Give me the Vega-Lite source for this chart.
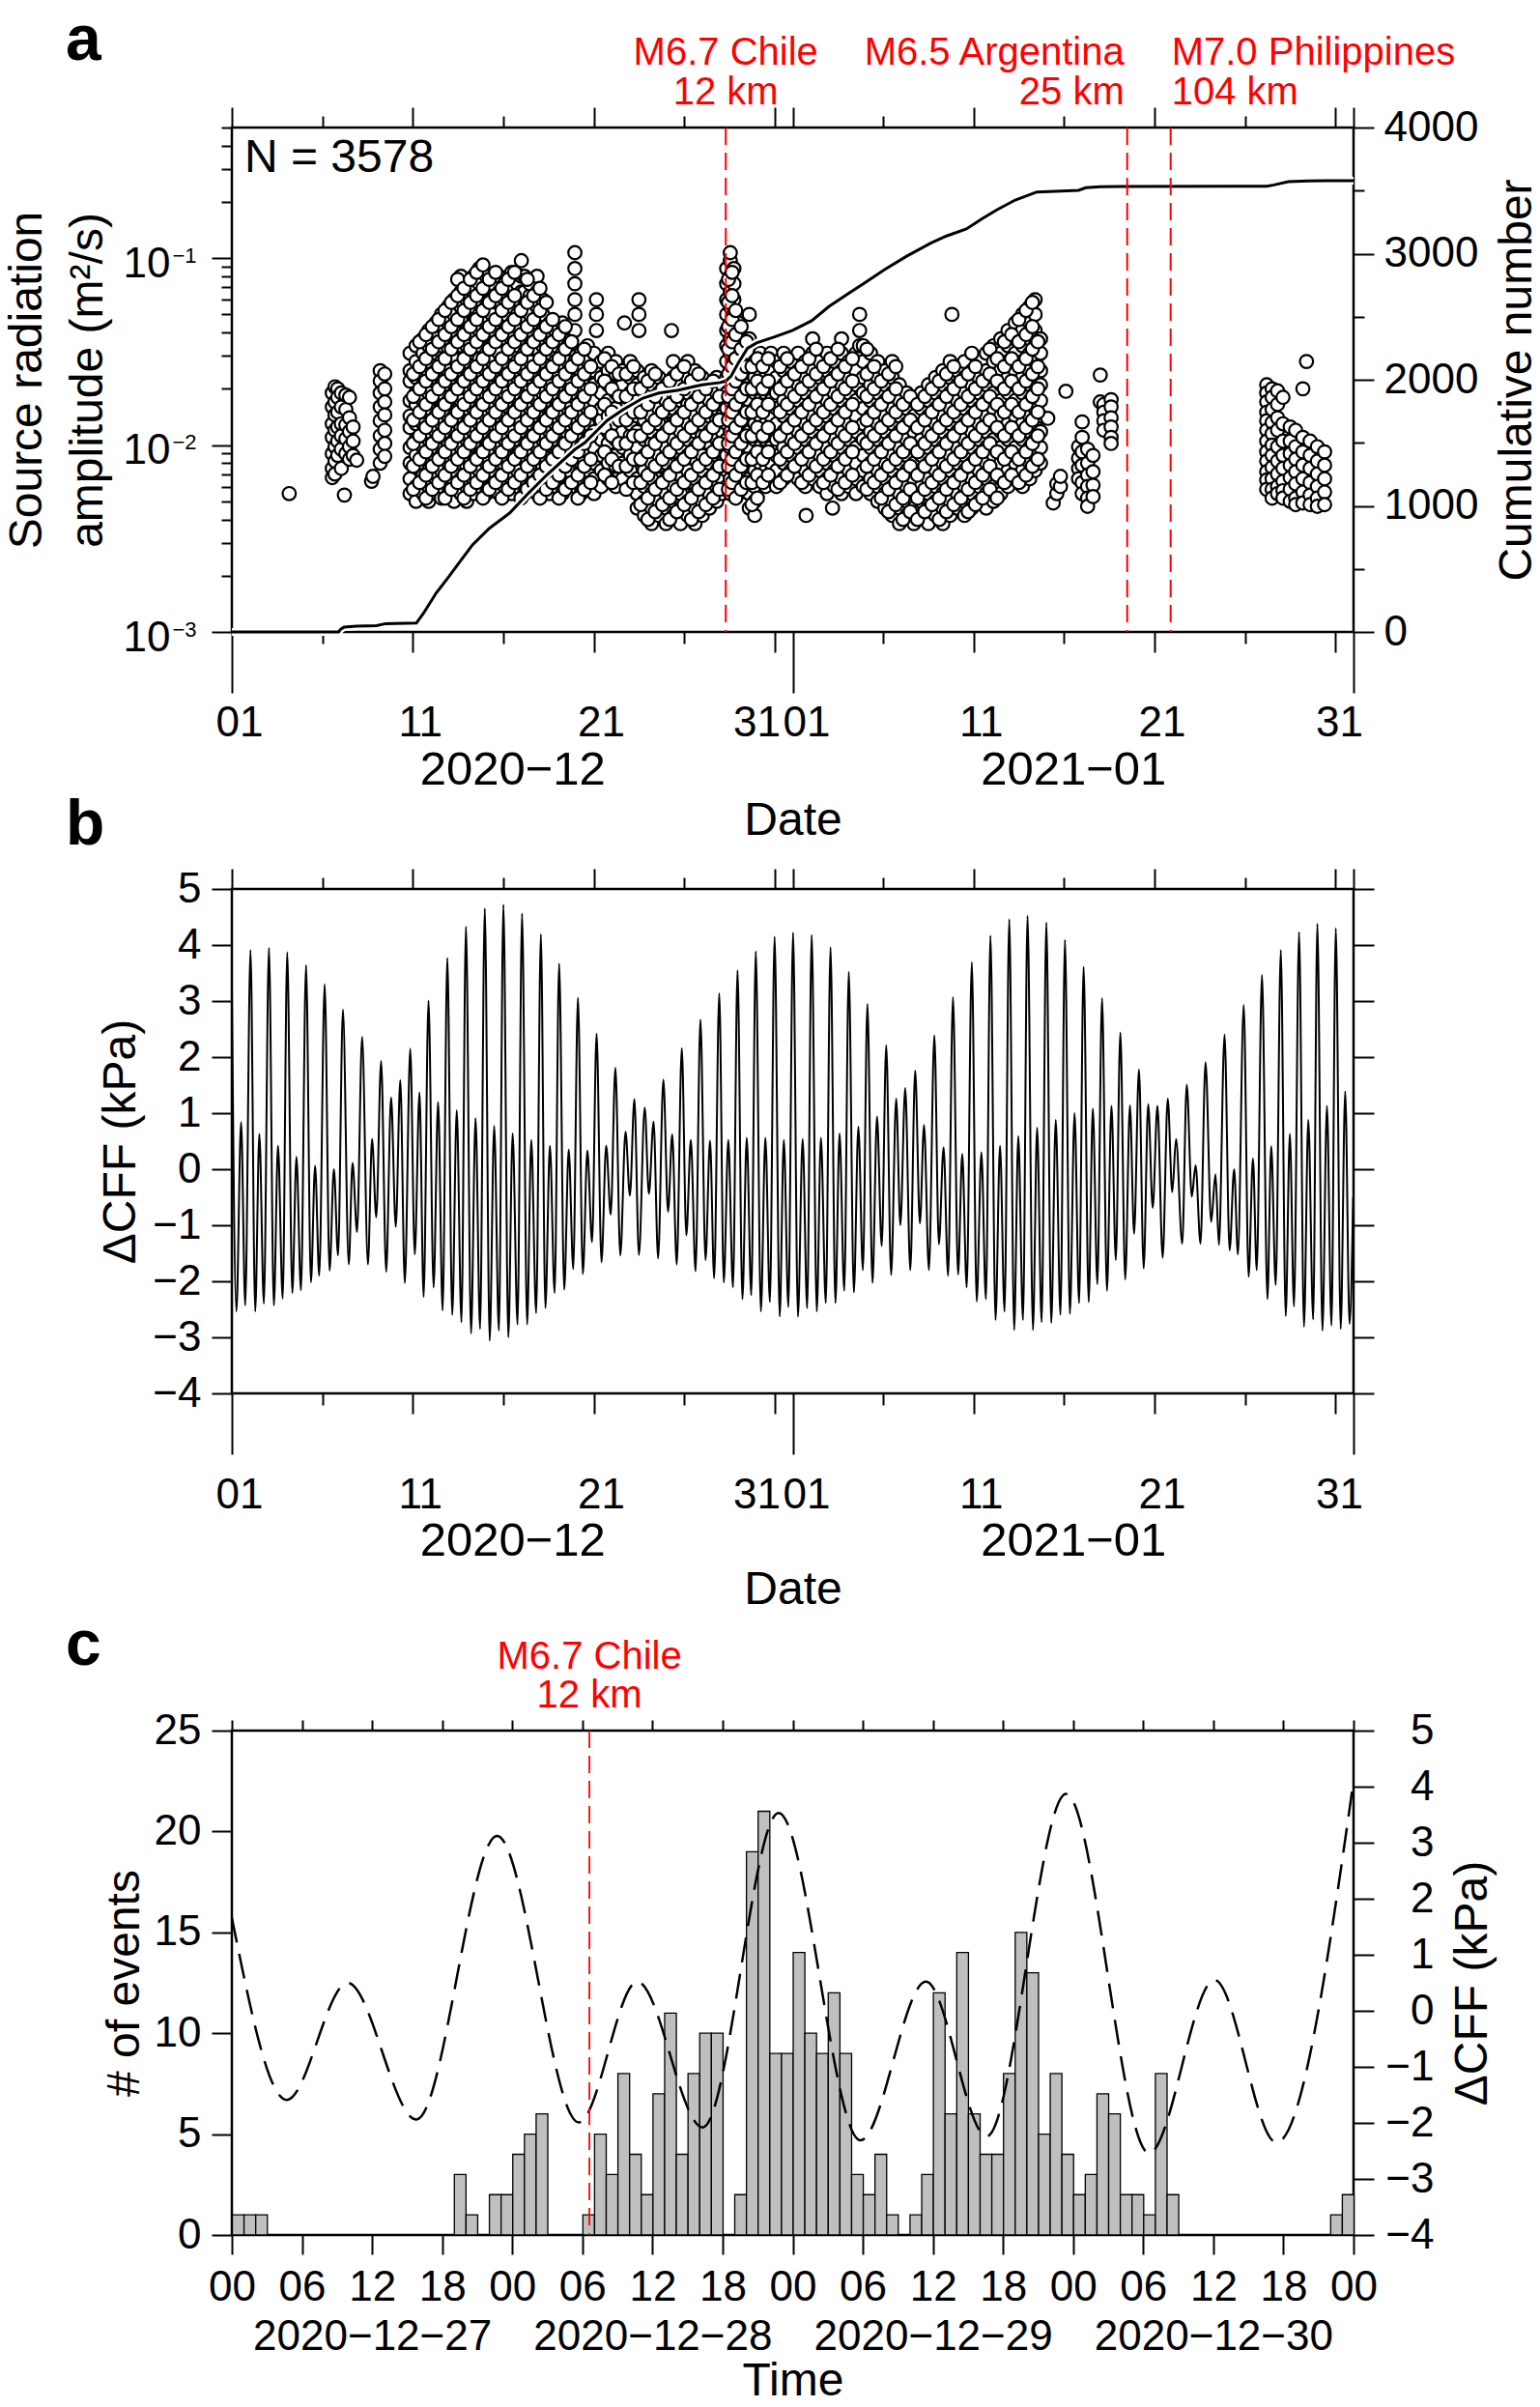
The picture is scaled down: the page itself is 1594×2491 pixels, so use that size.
{
"$schema":"https://vega.github.io/schema/vega-lite/v6.json",
"background":"white",
"padding":{"left":2,"top":7,"right":5,"bottom":5},
"config":{
 "font":"Liberation Sans",
 "view":{"stroke":"black","strokeWidth":2.5},
 "axis":{"domain":false,"grid":false,"tickColor":"black","tickWidth":2,"labelColor":"black","titleColor":"black","labelFont":"Liberation Sans","titleFont":"Liberation Sans","labelFontSize":44,"titleFontSize":48,"titleFontWeight":"normal","labelFlush":false,"labelOverlap":false,"labelBound":false,"labelLimit":1000},
 "text":{"font":"Liberation Sans"}
},
"datasets":{
"quakesA":[{"d":27.3,"q":"Chile","label":["M6.7 Chile","12 km"]},{"d":49.49,"q":"Argentina","label":["M6.5 Argentina","25 km"]},{"d":51.89,"q":"Philippines","label":["M7.0 Philippines","104 km"]}],
"quakeC":[{"h":30.6,"label":["M6.7 Chile","12 km"]}],
"cum":[{"d":0,"n":0},{"d":5.9,"n":0},{"d":6.0,"n":20},{"d":6.2,"n":38},{"d":6.9,"n":46},{"d":8.0,"n":50},{"d":8.5,"n":66},{"d":10.2,"n":70},{"d":10.6,"n":150},{"d":11.3,"n":310},{"d":12.0,"n":440},{"d":12.64,"n":565},{"d":13.3,"n":690},{"d":14.22,"n":820},{"d":15.35,"n":942},{"d":16.4,"n":1101},{"d":17.38,"n":1241},{"d":18.95,"n":1446},{"d":19.5,"n":1500},{"d":20.74,"n":1676},{"d":21.6,"n":1760},{"d":22.72,"n":1854},{"d":23.6,"n":1895},{"d":24.7,"n":1918},{"d":25.5,"n":1945},{"d":26.0,"n":1960},{"d":27.0,"n":1978},{"d":27.3,"n":1990},{"d":27.6,"n":2030},{"d":28.0,"n":2135},{"d":28.5,"n":2250},{"d":29.0,"n":2292},{"d":30.0,"n":2340},{"d":31.0,"n":2392},{"d":32.05,"n":2468},{"d":33.0,"n":2580},{"d":34.1,"n":2685},{"d":35.0,"n":2770},{"d":36.1,"n":2876},{"d":37.3,"n":2980},{"d":38.6,"n":3081},{"d":39.5,"n":3140},{"d":40.6,"n":3196},{"d":41.5,"n":3280},{"d":42.3,"n":3349},{"d":43.3,"n":3425},{"d":44.5,"n":3489},{"d":45.5,"n":3495},{"d":46.8,"n":3502},{"d":47.2,"n":3523},{"d":48.0,"n":3530},{"d":49.1,"n":3532},{"d":57.2,"n":3535},{"d":57.6,"n":3545},{"d":58.4,"n":3571},{"d":59.5,"n":3576},{"d":60.5,"n":3578},{"d":62,"n":3578}],
"scatter":[
{"d":3.17,"a":0.0055},
{"d":5.55,"a":0.019},{"d":5.55,"a":0.016},{"d":5.55,"a":0.013},{"d":5.55,"a":0.011},{"d":5.55,"a":0.009},{"d":5.55,"a":0.0075},{"d":5.55,"a":0.0067},
{"d":5.7,"a":0.0205},{"d":5.7,"a":0.017},{"d":5.7,"a":0.0145},{"d":5.7,"a":0.012},{"d":5.7,"a":0.0098},{"d":5.7,"a":0.0082},{"d":5.7,"a":0.007},
{"d":5.85,"a":0.02},{"d":5.85,"a":0.018},{"d":5.85,"a":0.015},{"d":5.85,"a":0.0125},{"d":5.85,"a":0.0105},{"d":5.85,"a":0.0088},
{"d":6.05,"a":0.019},{"d":6.05,"a":0.016},{"d":6.05,"a":0.013},{"d":6.05,"a":0.0112},{"d":6.05,"a":0.0095},{"d":6.05,"a":0.0075},
{"d":6.22,"a":0.0054},
{"d":6.3,"a":0.0185},{"d":6.3,"a":0.0155},{"d":6.3,"a":0.0128},{"d":6.3,"a":0.0108},{"d":6.3,"a":0.009},
{"d":6.5,"a":0.018},{"d":6.5,"a":0.014},{"d":6.5,"a":0.0118},{"d":6.5,"a":0.0098},{"d":6.5,"a":0.0084},
{"d":6.7,"a":0.0125},{"d":6.7,"a":0.0105},{"d":6.7,"a":0.0088},{"d":6.9,"a":0.0083},
{"d":7.72,"a":0.0064},{"d":7.8,"a":0.0068},
{"d":8.2,"a":0.025},{"d":8.2,"a":0.022},{"d":8.2,"a":0.019},{"d":8.2,"a":0.016},{"d":8.2,"a":0.0135},{"d":8.2,"a":0.0112},{"d":8.2,"a":0.0095},{"d":8.2,"a":0.008},
{"d":8.45,"a":0.024},{"d":8.45,"a":0.02},{"d":8.45,"a":0.017},{"d":8.45,"a":0.0145},{"d":8.45,"a":0.012},{"d":8.45,"a":0.0102},{"d":8.45,"a":0.0087},
{"d":9.85,"a":0.0055},{"d":9.85,"a":0.0066},{"d":9.85,"a":0.008},{"d":9.85,"a":0.0097},{"d":9.85,"a":0.0124},{"d":9.85,"a":0.0143},{"d":9.85,"a":0.0173},{"d":9.85,"a":0.022},{"d":9.85,"a":0.025},{"d":9.85,"a":0.031},
{"d":10.18,"a":0.005},{"d":10.18,"a":0.006},{"d":10.18,"a":0.0077},{"d":10.18,"a":0.0088},{"d":10.18,"a":0.0107},{"d":10.18,"a":0.013},{"d":10.18,"a":0.0165},{"d":10.18,"a":0.019},{"d":10.18,"a":0.023},{"d":10.18,"a":0.028},{"d":10.18,"a":0.034},
{"d":10.57,"a":0.0055},{"d":10.57,"a":0.0069},{"d":10.57,"a":0.008},{"d":10.57,"a":0.0097},{"d":10.57,"a":0.013},{"d":10.57,"a":0.015},{"d":10.57,"a":0.0173},{"d":10.57,"a":0.021},{"d":10.57,"a":0.0263},{"d":10.57,"a":0.031},{"d":10.57,"a":0.037},
{"d":10.88,"a":0.005},{"d":10.88,"a":0.006},{"d":10.88,"a":0.0073},{"d":10.88,"a":0.0092},{"d":10.88,"a":0.0107},{"d":10.88,"a":0.0118},{"d":10.88,"a":0.0157},{"d":10.88,"a":0.019},{"d":10.88,"a":0.024},{"d":10.88,"a":0.028},{"d":10.88,"a":0.034},{"d":10.88,"a":0.041},
{"d":11.27,"a":0.0055},{"d":11.27,"a":0.0066},{"d":11.27,"a":0.0084},{"d":11.27,"a":0.0097},{"d":11.27,"a":0.0118},{"d":11.27,"a":0.0143},{"d":11.27,"a":0.0182},{"d":11.27,"a":0.023},{"d":11.27,"a":0.025},{"d":11.27,"a":0.031},{"d":11.27,"a":0.039},{"d":11.27,"a":0.045},
{"d":11.58,"a":0.0052},{"d":11.58,"a":0.006},{"d":11.58,"a":0.0073},{"d":11.58,"a":0.0088},{"d":11.58,"a":0.0112},{"d":11.58,"a":0.013},{"d":11.58,"a":0.0157},{"d":11.58,"a":0.019},{"d":11.58,"a":0.021},{"d":11.58,"a":0.028},{"d":11.58,"a":0.034},{"d":11.58,"a":0.043},{"d":11.58,"a":0.05},
{"d":11.97,"a":0.0055},{"d":11.97,"a":0.0066},{"d":11.97,"a":0.008},{"d":11.97,"a":0.0102},{"d":11.97,"a":0.0118},{"d":11.97,"a":0.0143},{"d":11.97,"a":0.0173},{"d":11.97,"a":0.021},{"d":11.97,"a":0.025},{"d":11.97,"a":0.0326},{"d":11.97,"a":0.037},{"d":11.97,"a":0.045},{"d":11.97,"a":0.055},
{"d":12.28,"a":0.005},{"d":12.28,"a":0.0063},{"d":12.28,"a":0.0073},{"d":12.28,"a":0.0088},{"d":12.28,"a":0.0107},{"d":12.28,"a":0.0136},{"d":12.28,"a":0.0143},{"d":12.28,"a":0.019},{"d":12.28,"a":0.023},{"d":12.28,"a":0.029},{"d":12.28,"a":0.034},{"d":12.28,"a":0.041},{"d":12.28,"a":0.05},{"d":12.28,"a":0.06},
{"d":12.66,"a":0.0055},{"d":12.66,"a":0.0066},{"d":12.66,"a":0.008},{"d":12.66,"a":0.0097},{"d":12.66,"a":0.0124},{"d":12.66,"a":0.0143},{"d":12.66,"a":0.0173},{"d":12.66,"a":0.021},{"d":12.66,"a":0.025},{"d":12.66,"a":0.034},{"d":12.66,"a":0.037},{"d":12.66,"a":0.047},{"d":12.66,"a":0.055},{"d":12.66,"a":0.066},{"d":12.66,"a":0.08},
{"d":12.98,"a":0.005},{"d":12.98,"a":0.006},{"d":12.98,"a":0.0077},{"d":12.98,"a":0.0088},{"d":12.98,"a":0.0107},{"d":12.98,"a":0.013},{"d":12.98,"a":0.0157},{"d":12.98,"a":0.02},{"d":12.98,"a":0.023},{"d":12.98,"a":0.028},{"d":12.98,"a":0.034},{"d":12.98,"a":0.041},{"d":12.98,"a":0.0525},{"d":12.98,"a":0.06},{"d":12.98,"a":0.073},
{"d":13.36,"a":0.0055},{"d":13.36,"a":0.0066},{"d":13.36,"a":0.008},{"d":13.36,"a":0.0102},{"d":13.36,"a":0.0118},{"d":13.36,"a":0.0157},{"d":13.36,"a":0.0173},{"d":13.36,"a":0.021},{"d":13.36,"a":0.025},{"d":13.36,"a":0.031},{"d":13.36,"a":0.039},{"d":13.36,"a":0.045},{"d":13.36,"a":0.055},{"d":13.36,"a":0.066},{"d":13.36,"a":0.08},
{"d":13.68,"a":0.006},{"d":13.68,"a":0.0073},{"d":13.68,"a":0.0088},{"d":13.68,"a":0.0112},{"d":13.68,"a":0.013},{"d":13.68,"a":0.0157},{"d":13.68,"a":0.019},{"d":13.68,"a":0.023},{"d":13.68,"a":0.029},{"d":13.68,"a":0.034},{"d":13.68,"a":0.041},{"d":13.68,"a":0.05},{"d":13.68,"a":0.06},{"d":13.68,"a":0.073},{"d":13.68,"a":0.088},
{"d":14.07,"a":0.0055},{"d":14.07,"a":0.0069},{"d":14.07,"a":0.008},{"d":14.07,"a":0.0097},{"d":14.07,"a":0.0118},{"d":14.07,"a":0.0143},{"d":14.07,"a":0.0182},{"d":14.07,"a":0.021},{"d":14.07,"a":0.025},{"d":14.07,"a":0.031},{"d":14.07,"a":0.041},{"d":14.07,"a":0.045},{"d":14.07,"a":0.055},{"d":14.07,"a":0.069},{"d":14.07,"a":0.08},
{"d":14.38,"a":0.006},{"d":14.38,"a":0.0073},{"d":14.38,"a":0.0092},{"d":14.38,"a":0.0107},{"d":14.38,"a":0.013},{"d":14.38,"a":0.0157},{"d":14.38,"a":0.019},{"d":14.38,"a":0.024},{"d":14.38,"a":0.028},{"d":14.38,"a":0.034},{"d":14.38,"a":0.041},{"d":14.38,"a":0.05},{"d":14.38,"a":0.06},{"d":14.38,"a":0.073},
{"d":14.77,"a":0.0055},{"d":14.77,"a":0.0066},{"d":14.77,"a":0.008},{"d":14.77,"a":0.0097},{"d":14.77,"a":0.0124},{"d":14.77,"a":0.0143},{"d":14.77,"a":0.0173},{"d":14.77,"a":0.021},{"d":14.77,"a":0.0263},{"d":14.77,"a":0.031},{"d":14.77,"a":0.037},{"d":14.77,"a":0.045},{"d":14.77,"a":0.058},{"d":14.77,"a":0.066},{"d":14.77,"a":0.08},
{"d":15.08,"a":0.006},{"d":15.08,"a":0.0077},{"d":15.08,"a":0.0088},{"d":15.08,"a":0.0107},{"d":15.08,"a":0.013},{"d":15.08,"a":0.0173},{"d":15.08,"a":0.019},{"d":15.08,"a":0.023},{"d":15.08,"a":0.028},{"d":15.08,"a":0.0357},{"d":15.08,"a":0.041},{"d":15.08,"a":0.05},{"d":15.08,"a":0.06},{"d":15.08,"a":0.073},
{"d":15.47,"a":0.0055},{"d":15.47,"a":0.0066},{"d":15.47,"a":0.008},{"d":15.47,"a":0.0102},{"d":15.47,"a":0.0118},{"d":15.47,"a":0.0143},{"d":15.47,"a":0.0173},{"d":15.47,"a":0.022},{"d":15.47,"a":0.025},{"d":15.47,"a":0.031},{"d":15.47,"a":0.037},{"d":15.47,"a":0.045},{"d":15.47,"a":0.055},{"d":15.47,"a":0.066},{"d":15.47,"a":0.084},
{"d":15.78,"a":0.006},{"d":15.78,"a":0.0073},{"d":15.78,"a":0.0088},{"d":15.78,"a":0.0107},{"d":15.78,"a":0.0136},{"d":15.78,"a":0.0157},{"d":15.78,"a":0.019},{"d":15.78,"a":0.023},{"d":15.78,"a":0.028},{"d":15.78,"a":0.034},{"d":15.78,"a":0.043},{"d":15.78,"a":0.05},{"d":15.78,"a":0.06},{"d":15.78,"a":0.073},
{"d":16.0,"a":0.066},{"d":16.0,"a":0.08},{"d":16.0,"a":0.097},
{"d":16.17,"a":0.0055},{"d":16.17,"a":0.0066},{"d":16.17,"a":0.0084},{"d":16.17,"a":0.0097},{"d":16.17,"a":0.0118},{"d":16.17,"a":0.015},{"d":16.17,"a":0.0173},{"d":16.17,"a":0.021},{"d":16.17,"a":0.025},{"d":16.17,"a":0.031},{"d":16.17,"a":0.037},{"d":16.17,"a":0.047},{"d":16.17,"a":0.055},{"d":16.17,"a":0.066},{"d":16.17,"a":0.08},
{"d":16.48,"a":0.006},{"d":16.48,"a":0.0073},{"d":16.48,"a":0.0088},{"d":16.48,"a":0.0107},{"d":16.48,"a":0.013},{"d":16.48,"a":0.0157},{"d":16.48,"a":0.02},{"d":16.48,"a":0.023},{"d":16.48,"a":0.028},{"d":16.48,"a":0.034},{"d":16.48,"a":0.041},{"d":16.48,"a":0.05},{"d":16.48,"a":0.063},{"d":16.48,"a":0.073},
{"d":16.87,"a":0.0055},{"d":16.87,"a":0.0066},{"d":16.87,"a":0.008},{"d":16.87,"a":0.0097},{"d":16.87,"a":0.0118},{"d":16.87,"a":0.0143},{"d":16.87,"a":0.0173},{"d":16.87,"a":0.021},{"d":16.87,"a":0.025},{"d":16.87,"a":0.0326},{"d":16.87,"a":0.037},{"d":16.87,"a":0.045},{"d":16.87,"a":0.055},{"d":16.87,"a":0.066},{"d":16.87,"a":0.08},
{"d":17.18,"a":0.006},{"d":17.18,"a":0.0077},{"d":17.18,"a":0.0088},{"d":17.18,"a":0.0107},{"d":17.18,"a":0.013},{"d":17.18,"a":0.0165},{"d":17.18,"a":0.019},{"d":17.18,"a":0.023},{"d":17.18,"a":0.028},{"d":17.18,"a":0.034},{"d":17.18,"a":0.041},{"d":17.18,"a":0.05},{"d":17.18,"a":0.06},
{"d":17.57,"a":0.0055},{"d":17.57,"a":0.0066},{"d":17.57,"a":0.008},{"d":17.57,"a":0.0102},{"d":17.57,"a":0.0118},{"d":17.57,"a":0.0143},{"d":17.57,"a":0.0173},{"d":17.57,"a":0.021},{"d":17.57,"a":0.025},{"d":17.57,"a":0.031},{"d":17.57,"a":0.037},{"d":17.57,"a":0.045},
{"d":17.88,"a":0.006},{"d":17.88,"a":0.0073},{"d":17.88,"a":0.0088},{"d":17.88,"a":0.0107},{"d":17.88,"a":0.013},{"d":17.88,"a":0.0157},{"d":17.88,"a":0.019},{"d":17.88,"a":0.024},{"d":17.88,"a":0.028},{"d":17.88,"a":0.034},{"d":17.88,"a":0.041},
{"d":18.27,"a":0.0055},{"d":18.27,"a":0.0069},{"d":18.27,"a":0.008},{"d":18.27,"a":0.0097},{"d":18.27,"a":0.0118},{"d":18.27,"a":0.0143},{"d":18.27,"a":0.0173},{"d":18.27,"a":0.021},{"d":18.27,"a":0.0263},{"d":18.27,"a":0.031},{"d":18.27,"a":0.037},{"d":18.27,"a":0.045},
{"d":18.58,"a":0.006},{"d":18.58,"a":0.0073},{"d":18.58,"a":0.0088},{"d":18.58,"a":0.0112},{"d":18.58,"a":0.013},{"d":18.58,"a":0.0157},{"d":18.58,"a":0.019},{"d":18.58,"a":0.023},{"d":18.58,"a":0.028},{"d":18.58,"a":0.034},
{"d":18.96,"a":0.006},{"d":18.96,"a":0.0088},{"d":18.96,"a":0.013},{"d":18.96,"a":0.019},{"d":18.96,"a":0.028},{"d":18.96,"a":0.041},{"d":18.96,"a":0.05},{"d":18.96,"a":0.06},{"d":18.96,"a":0.073},{"d":18.96,"a":0.088},{"d":18.96,"a":0.107},
{"d":19.3,"a":0.0055},{"d":19.3,"a":0.0066},{"d":19.3,"a":0.008},{"d":19.3,"a":0.0097},{"d":19.3,"a":0.0124},{"d":19.3,"a":0.0143},{"d":19.3,"a":0.0173},{"d":19.3,"a":0.021},{"d":19.3,"a":0.025},{"d":19.3,"a":0.031},
{"d":19.66,"a":0.006},{"d":19.66,"a":0.0073},{"d":19.66,"a":0.0092},{"d":19.66,"a":0.0107},{"d":19.66,"a":0.013},{"d":19.66,"a":0.0157},{"d":19.66,"a":0.02},{"d":19.66,"a":0.023},{"d":19.66,"a":0.028},{"d":19.66,"a":0.034},
{"d":20.02,"a":0.0055},{"d":20.02,"a":0.0066},{"d":20.02,"a":0.008},{"d":20.02,"a":0.0097},{"d":20.02,"a":0.0118},{"d":20.02,"a":0.015},{"d":20.02,"a":0.0173},{"d":20.02,"a":0.021},{"d":20.02,"a":0.025},{"d":20.02,"a":0.031},
{"d":20.15,"a":0.041},{"d":20.15,"a":0.05},{"d":20.15,"a":0.06},
{"d":20.42,"a":0.006},{"d":20.42,"a":0.0073},{"d":20.42,"a":0.0088},{"d":20.42,"a":0.0107},{"d":20.42,"a":0.0136},{"d":20.42,"a":0.0157},{"d":20.42,"a":0.019},{"d":20.42,"a":0.023},{"d":20.42,"a":0.028},
{"d":20.8,"a":0.0066},{"d":20.8,"a":0.008},{"d":20.8,"a":0.0102},{"d":20.8,"a":0.0118},{"d":20.8,"a":0.0143},{"d":20.8,"a":0.0173},{"d":20.8,"a":0.021},{"d":20.8,"a":0.025},{"d":20.8,"a":0.031},
{"d":21.22,"a":0.006},{"d":21.22,"a":0.0077},{"d":21.22,"a":0.0088},{"d":21.22,"a":0.0107},{"d":21.22,"a":0.013},{"d":21.22,"a":0.0157},{"d":21.22,"a":0.019},{"d":21.22,"a":0.024},{"d":21.22,"a":0.028},
{"d":21.6,"a":0.0066},{"d":21.6,"a":0.008},{"d":21.6,"a":0.0097},{"d":21.6,"a":0.0118},{"d":21.6,"a":0.0143},{"d":21.6,"a":0.0182},{"d":21.6,"a":0.021},{"d":21.6,"a":0.025},
{"d":21.7,"a":0.045},
{"d":22.02,"a":0.006},{"d":22.02,"a":0.0073},{"d":22.02,"a":0.0088},{"d":22.02,"a":0.0112},{"d":22.02,"a":0.013},{"d":22.02,"a":0.0157},{"d":22.02,"a":0.019},{"d":22.02,"a":0.023},{"d":22.02,"a":0.028},
{"d":22.4,"a":0.0046},{"d":22.4,"a":0.0055},{"d":22.4,"a":0.0066},{"d":22.4,"a":0.0084},{"d":22.4,"a":0.0097},{"d":22.4,"a":0.0118},{"d":22.4,"a":0.0143},{"d":22.4,"a":0.0173},{"d":22.4,"a":0.021},{"d":22.4,"a":0.025},
{"d":22.5,"a":0.041},{"d":22.5,"a":0.05},{"d":22.5,"a":0.06},
{"d":22.8,"a":0.0042},{"d":22.8,"a":0.005},{"d":22.8,"a":0.006},{"d":22.8,"a":0.0073},{"d":22.8,"a":0.0088},{"d":22.8,"a":0.0107},{"d":22.8,"a":0.0136},{"d":22.8,"a":0.0157},{"d":22.8,"a":0.019},{"d":22.8,"a":0.023},
{"d":23.2,"a":0.0038},{"d":23.2,"a":0.0046},{"d":23.2,"a":0.0055},{"d":23.2,"a":0.0066},{"d":23.2,"a":0.008},{"d":23.2,"a":0.0102},{"d":23.2,"a":0.0118},{"d":23.2,"a":0.0143},{"d":23.2,"a":0.0173},{"d":23.2,"a":0.021},{"d":23.2,"a":0.025},
{"d":23.6,"a":0.0042},{"d":23.6,"a":0.005},{"d":23.6,"a":0.006},{"d":23.6,"a":0.0077},{"d":23.6,"a":0.0088},{"d":23.6,"a":0.0107},{"d":23.6,"a":0.013},{"d":23.6,"a":0.0157},{"d":23.6,"a":0.019},{"d":23.6,"a":0.023},
{"d":24.0,"a":0.0038},{"d":24.0,"a":0.0046},{"d":24.0,"a":0.0055},{"d":24.0,"a":0.0066},{"d":24.0,"a":0.008},{"d":24.0,"a":0.0097},{"d":24.0,"a":0.0118},{"d":24.0,"a":0.015},{"d":24.0,"a":0.0173},{"d":24.0,"a":0.021},
{"d":24.3,"a":0.041},
{"d":24.4,"a":0.0042},{"d":24.4,"a":0.005},{"d":24.4,"a":0.006},{"d":24.4,"a":0.0073},{"d":24.4,"a":0.0092},{"d":24.4,"a":0.0107},{"d":24.4,"a":0.013},{"d":24.4,"a":0.0157},{"d":24.4,"a":0.019},{"d":24.4,"a":0.023},{"d":24.4,"a":0.028},
{"d":24.8,"a":0.0038},{"d":24.8,"a":0.0046},{"d":24.8,"a":0.0055},{"d":24.8,"a":0.0069},{"d":24.8,"a":0.008},{"d":24.8,"a":0.0097},{"d":24.8,"a":0.0118},{"d":24.8,"a":0.0143},{"d":24.8,"a":0.0173},{"d":24.8,"a":0.021},{"d":24.8,"a":0.025},
{"d":25.2,"a":0.0042},{"d":25.2,"a":0.005},{"d":25.2,"a":0.0063},{"d":25.2,"a":0.0073},{"d":25.2,"a":0.0088},{"d":25.2,"a":0.0107},{"d":25.2,"a":0.013},{"d":25.2,"a":0.0165},{"d":25.2,"a":0.019},{"d":25.2,"a":0.023},{"d":25.2,"a":0.028},
{"d":25.6,"a":0.0038},{"d":25.6,"a":0.0046},{"d":25.6,"a":0.0055},{"d":25.6,"a":0.0066},{"d":25.6,"a":0.0084},{"d":25.6,"a":0.0097},{"d":25.6,"a":0.0118},{"d":25.6,"a":0.0143},{"d":25.6,"a":0.0173},{"d":25.6,"a":0.022},{"d":25.6,"a":0.025},
{"d":26.0,"a":0.0042},{"d":26.0,"a":0.005},{"d":26.0,"a":0.006},{"d":26.0,"a":0.0073},{"d":26.0,"a":0.0088},{"d":26.0,"a":0.0112},{"d":26.0,"a":0.013},{"d":26.0,"a":0.0157},{"d":26.0,"a":0.019},{"d":26.0,"a":0.023},
{"d":26.4,"a":0.0046},{"d":26.4,"a":0.0055},{"d":26.4,"a":0.0066},{"d":26.4,"a":0.008},{"d":26.4,"a":0.0102},{"d":26.4,"a":0.0118},{"d":26.4,"a":0.0143},{"d":26.4,"a":0.0173},{"d":26.4,"a":0.021},
{"d":26.8,"a":0.005},{"d":26.8,"a":0.006},{"d":26.8,"a":0.0073},{"d":26.8,"a":0.0088},{"d":26.8,"a":0.0107},{"d":26.8,"a":0.0136},{"d":26.8,"a":0.0157},{"d":26.8,"a":0.019},{"d":26.8,"a":0.023},
{"d":27.1,"a":0.0055},{"d":27.1,"a":0.0066},{"d":27.1,"a":0.008},{"d":27.1,"a":0.0097},{"d":27.1,"a":0.0118},{"d":27.1,"a":0.0143},{"d":27.1,"a":0.0173},{"d":27.1,"a":0.021},
{"d":27.35,"a":0.006},{"d":27.35,"a":0.0073},{"d":27.35,"a":0.0088},{"d":27.35,"a":0.0107},{"d":27.35,"a":0.013},{"d":27.35,"a":0.0157},{"d":27.35,"a":0.019},{"d":27.35,"a":0.023},{"d":27.35,"a":0.028},{"d":27.35,"a":0.034},{"d":27.35,"a":0.041},{"d":27.35,"a":0.05},{"d":27.35,"a":0.06},{"d":27.35,"a":0.073},{"d":27.35,"a":0.088},
{"d":27.55,"a":0.0055},{"d":27.55,"a":0.0066},{"d":27.55,"a":0.008},{"d":27.55,"a":0.0097},{"d":27.55,"a":0.0118},{"d":27.55,"a":0.0143},{"d":27.55,"a":0.0173},{"d":27.55,"a":0.021},{"d":27.55,"a":0.025},{"d":27.55,"a":0.031},{"d":27.55,"a":0.037},{"d":27.55,"a":0.045},{"d":27.55,"a":0.055},{"d":27.55,"a":0.066},{"d":27.55,"a":0.08},{"d":27.55,"a":0.097},{"d":27.55,"a":0.107},
{"d":27.75,"a":0.006},{"d":27.75,"a":0.0073},{"d":27.75,"a":0.0088},{"d":27.75,"a":0.0107},{"d":27.75,"a":0.013},{"d":27.75,"a":0.0157},{"d":27.75,"a":0.019},{"d":27.75,"a":0.023},{"d":27.75,"a":0.028},{"d":27.75,"a":0.034},{"d":27.75,"a":0.041},{"d":27.75,"a":0.05},{"d":27.75,"a":0.06},{"d":27.75,"a":0.073},{"d":27.75,"a":0.088},
{"d":28.0,"a":0.0055},{"d":28.0,"a":0.0066},{"d":28.0,"a":0.008},{"d":28.0,"a":0.0097},{"d":28.0,"a":0.0118},{"d":28.0,"a":0.0143},{"d":28.0,"a":0.0173},{"d":28.0,"a":0.021},{"d":28.0,"a":0.025},{"d":28.0,"a":0.031},{"d":28.0,"a":0.037},{"d":28.0,"a":0.045},
{"d":28.3,"a":0.006},{"d":28.3,"a":0.0073},{"d":28.3,"a":0.0088},{"d":28.3,"a":0.0107},{"d":28.3,"a":0.013},{"d":28.3,"a":0.0157},{"d":28.3,"a":0.019},{"d":28.3,"a":0.023},{"d":28.3,"a":0.028},{"d":28.3,"a":0.034},
{"d":28.6,"a":0.0046},{"d":28.6,"a":0.0055},{"d":28.6,"a":0.0066},{"d":28.6,"a":0.008},{"d":28.6,"a":0.0097},{"d":28.6,"a":0.0118},{"d":28.6,"a":0.0143},{"d":28.6,"a":0.0173},{"d":28.6,"a":0.021},{"d":28.6,"a":0.025},{"d":28.6,"a":0.031},{"d":28.6,"a":0.037},{"d":28.6,"a":0.05},
{"d":28.9,"a":0.0042},{"d":28.9,"a":0.005},{"d":28.9,"a":0.006},{"d":28.9,"a":0.0073},{"d":28.9,"a":0.0088},{"d":28.9,"a":0.0107},{"d":28.9,"a":0.013},{"d":28.9,"a":0.0157},{"d":28.9,"a":0.019},{"d":28.9,"a":0.023},{"d":28.9,"a":0.028},
{"d":29.2,"a":0.0066},{"d":29.2,"a":0.008},{"d":29.2,"a":0.0097},{"d":29.2,"a":0.0118},{"d":29.2,"a":0.0143},{"d":29.2,"a":0.0173},{"d":29.2,"a":0.021},{"d":29.2,"a":0.025},{"d":29.2,"a":0.031},
{"d":29.5,"a":0.006},{"d":29.5,"a":0.0073},{"d":29.5,"a":0.0088},{"d":29.5,"a":0.0107},{"d":29.5,"a":0.013},{"d":29.5,"a":0.0157},{"d":29.5,"a":0.019},{"d":29.5,"a":0.023},{"d":29.5,"a":0.028},
{"d":29.8,"a":0.0066},{"d":29.8,"a":0.008},{"d":29.8,"a":0.0097},{"d":29.8,"a":0.0118},{"d":29.8,"a":0.0143},{"d":29.8,"a":0.0173},{"d":29.8,"a":0.021},{"d":29.8,"a":0.025},{"d":29.8,"a":0.031},
{"d":30.1,"a":0.006},{"d":30.1,"a":0.0073},{"d":30.1,"a":0.0088},{"d":30.1,"a":0.0107},{"d":30.1,"a":0.013},{"d":30.1,"a":0.0157},{"d":30.1,"a":0.019},{"d":30.1,"a":0.023},{"d":30.1,"a":0.028},
{"d":30.5,"a":0.0066},{"d":30.5,"a":0.008},{"d":30.5,"a":0.0097},{"d":30.5,"a":0.0118},{"d":30.5,"a":0.0143},{"d":30.5,"a":0.0173},{"d":30.5,"a":0.021},{"d":30.5,"a":0.025},{"d":30.5,"a":0.031},
{"d":30.9,"a":0.0073},{"d":30.9,"a":0.0088},{"d":30.9,"a":0.0107},{"d":30.9,"a":0.013},{"d":30.9,"a":0.0157},{"d":30.9,"a":0.019},{"d":30.9,"a":0.023},{"d":30.9,"a":0.028},
{"d":31.3,"a":0.0066},{"d":31.3,"a":0.008},{"d":31.3,"a":0.0097},{"d":31.3,"a":0.0118},{"d":31.3,"a":0.0143},{"d":31.3,"a":0.0173},{"d":31.3,"a":0.021},{"d":31.3,"a":0.025},{"d":31.3,"a":0.031},
{"d":31.74,"a":0.0042},
{"d":31.7,"a":0.006},{"d":31.7,"a":0.0073},{"d":31.7,"a":0.0088},{"d":31.7,"a":0.0107},{"d":31.7,"a":0.013},{"d":31.7,"a":0.0157},{"d":31.7,"a":0.019},{"d":31.7,"a":0.023},{"d":31.7,"a":0.028},
{"d":32.1,"a":0.0066},{"d":32.1,"a":0.008},{"d":32.1,"a":0.0097},{"d":32.1,"a":0.0118},{"d":32.1,"a":0.0143},{"d":32.1,"a":0.0173},{"d":32.1,"a":0.021},{"d":32.1,"a":0.025},{"d":32.1,"a":0.031},{"d":32.1,"a":0.037},
{"d":32.5,"a":0.006},{"d":32.5,"a":0.0073},{"d":32.5,"a":0.0088},{"d":32.5,"a":0.0107},{"d":32.5,"a":0.013},{"d":32.5,"a":0.0157},{"d":32.5,"a":0.019},{"d":32.5,"a":0.023},{"d":32.5,"a":0.028},
{"d":32.9,"a":0.0055},{"d":32.9,"a":0.0066},{"d":32.9,"a":0.008},{"d":32.9,"a":0.0097},{"d":32.9,"a":0.0118},{"d":32.9,"a":0.0143},{"d":32.9,"a":0.0173},{"d":32.9,"a":0.021},{"d":32.9,"a":0.025},{"d":32.9,"a":0.031},
{"d":33.2,"a":0.0046},
{"d":33.3,"a":0.006},{"d":33.3,"a":0.0073},{"d":33.3,"a":0.0088},{"d":33.3,"a":0.0107},{"d":33.3,"a":0.013},{"d":33.3,"a":0.0157},{"d":33.3,"a":0.019},{"d":33.3,"a":0.023},{"d":33.3,"a":0.028},
{"d":33.7,"a":0.0055},{"d":33.7,"a":0.0066},{"d":33.7,"a":0.008},{"d":33.7,"a":0.0097},{"d":33.7,"a":0.0118},{"d":33.7,"a":0.0143},{"d":33.7,"a":0.0173},{"d":33.7,"a":0.021},{"d":33.7,"a":0.025},{"d":33.7,"a":0.031},{"d":33.7,"a":0.037},
{"d":34.1,"a":0.006},{"d":34.1,"a":0.0073},{"d":34.1,"a":0.0088},{"d":34.1,"a":0.0107},{"d":34.1,"a":0.013},{"d":34.1,"a":0.0157},{"d":34.1,"a":0.019},{"d":34.1,"a":0.023},{"d":34.1,"a":0.028},
{"d":34.5,"a":0.0055},{"d":34.5,"a":0.0066},{"d":34.5,"a":0.008},{"d":34.5,"a":0.0097},{"d":34.5,"a":0.0118},{"d":34.5,"a":0.0143},{"d":34.5,"a":0.0173},{"d":34.5,"a":0.021},{"d":34.5,"a":0.025},{"d":34.5,"a":0.031},
{"d":34.7,"a":0.034},{"d":34.7,"a":0.041},{"d":34.7,"a":0.05},
{"d":34.9,"a":0.006},{"d":34.9,"a":0.0073},{"d":34.9,"a":0.0088},{"d":34.9,"a":0.0107},{"d":34.9,"a":0.013},{"d":34.9,"a":0.0157},{"d":34.9,"a":0.019},{"d":34.9,"a":0.023},{"d":34.9,"a":0.028},{"d":34.9,"a":0.034},
{"d":35.3,"a":0.0055},{"d":35.3,"a":0.0066},{"d":35.3,"a":0.008},{"d":35.3,"a":0.0097},{"d":35.3,"a":0.0118},{"d":35.3,"a":0.0143},{"d":35.3,"a":0.0173},{"d":35.3,"a":0.021},{"d":35.3,"a":0.025},{"d":35.3,"a":0.031},
{"d":35.7,"a":0.005},{"d":35.7,"a":0.006},{"d":35.7,"a":0.0073},{"d":35.7,"a":0.0088},{"d":35.7,"a":0.0107},{"d":35.7,"a":0.013},{"d":35.7,"a":0.0157},{"d":35.7,"a":0.019},{"d":35.7,"a":0.023},{"d":35.7,"a":0.028},
{"d":36.1,"a":0.0046},{"d":36.1,"a":0.0055},{"d":36.1,"a":0.0066},{"d":36.1,"a":0.008},{"d":36.1,"a":0.0097},{"d":36.1,"a":0.0118},{"d":36.1,"a":0.0143},{"d":36.1,"a":0.0173},{"d":36.1,"a":0.021},{"d":36.1,"a":0.025},
{"d":36.5,"a":0.0042},{"d":36.5,"a":0.005},{"d":36.5,"a":0.006},{"d":36.5,"a":0.0073},{"d":36.5,"a":0.0088},{"d":36.5,"a":0.0107},{"d":36.5,"a":0.013},{"d":36.5,"a":0.0157},{"d":36.5,"a":0.019},{"d":36.5,"a":0.023},{"d":36.5,"a":0.028},
{"d":36.9,"a":0.0038},{"d":36.9,"a":0.0046},{"d":36.9,"a":0.0055},{"d":36.9,"a":0.0066},{"d":36.9,"a":0.008},{"d":36.9,"a":0.0097},{"d":36.9,"a":0.0118},{"d":36.9,"a":0.0143},{"d":36.9,"a":0.0173},{"d":36.9,"a":0.021},
{"d":37.3,"a":0.0042},{"d":37.3,"a":0.005},{"d":37.3,"a":0.006},{"d":37.3,"a":0.0073},{"d":37.3,"a":0.0088},{"d":37.3,"a":0.0107},{"d":37.3,"a":0.013},{"d":37.3,"a":0.0157},{"d":37.3,"a":0.019},
{"d":37.7,"a":0.0038},{"d":37.7,"a":0.0046},{"d":37.7,"a":0.0055},{"d":37.7,"a":0.0066},{"d":37.7,"a":0.008},{"d":37.7,"a":0.0097},{"d":37.7,"a":0.0118},{"d":37.7,"a":0.0143},{"d":37.7,"a":0.0173},
{"d":38.1,"a":0.0042},{"d":38.1,"a":0.005},{"d":38.1,"a":0.006},{"d":38.1,"a":0.0073},{"d":38.1,"a":0.0088},{"d":38.1,"a":0.0107},{"d":38.1,"a":0.013},{"d":38.1,"a":0.0157},{"d":38.1,"a":0.019},
{"d":38.5,"a":0.0038},{"d":38.5,"a":0.0046},{"d":38.5,"a":0.0055},{"d":38.5,"a":0.0066},{"d":38.5,"a":0.008},{"d":38.5,"a":0.0097},{"d":38.5,"a":0.0118},{"d":38.5,"a":0.0143},{"d":38.5,"a":0.0173},{"d":38.5,"a":0.021},
{"d":38.9,"a":0.0042},{"d":38.9,"a":0.005},{"d":38.9,"a":0.006},{"d":38.9,"a":0.0073},{"d":38.9,"a":0.0088},{"d":38.9,"a":0.0107},{"d":38.9,"a":0.013},{"d":38.9,"a":0.0157},{"d":38.9,"a":0.019},{"d":38.9,"a":0.023},
{"d":39.3,"a":0.0038},{"d":39.3,"a":0.0046},{"d":39.3,"a":0.0055},{"d":39.3,"a":0.0066},{"d":39.3,"a":0.008},{"d":39.3,"a":0.0097},{"d":39.3,"a":0.0118},{"d":39.3,"a":0.0143},{"d":39.3,"a":0.0173},{"d":39.3,"a":0.021},{"d":39.3,"a":0.025},
{"d":39.8,"a":0.05},
{"d":39.7,"a":0.0042},{"d":39.7,"a":0.005},{"d":39.7,"a":0.006},{"d":39.7,"a":0.0073},{"d":39.7,"a":0.0088},{"d":39.7,"a":0.0107},{"d":39.7,"a":0.013},{"d":39.7,"a":0.0157},{"d":39.7,"a":0.019},{"d":39.7,"a":0.023},{"d":39.7,"a":0.028},
{"d":40.1,"a":0.0046},{"d":40.1,"a":0.0055},{"d":40.1,"a":0.0066},{"d":40.1,"a":0.008},{"d":40.1,"a":0.0097},{"d":40.1,"a":0.0118},{"d":40.1,"a":0.0143},{"d":40.1,"a":0.0173},{"d":40.1,"a":0.021},{"d":40.1,"a":0.025},
{"d":40.5,"a":0.0042},{"d":40.5,"a":0.005},{"d":40.5,"a":0.006},{"d":40.5,"a":0.0073},{"d":40.5,"a":0.0088},{"d":40.5,"a":0.0107},{"d":40.5,"a":0.013},{"d":40.5,"a":0.0157},{"d":40.5,"a":0.019},{"d":40.5,"a":0.023},{"d":40.5,"a":0.028},
{"d":40.9,"a":0.0046},{"d":40.9,"a":0.0055},{"d":40.9,"a":0.0066},{"d":40.9,"a":0.008},{"d":40.9,"a":0.0097},{"d":40.9,"a":0.0118},{"d":40.9,"a":0.0143},{"d":40.9,"a":0.0173},{"d":40.9,"a":0.021},{"d":40.9,"a":0.025},{"d":40.9,"a":0.031},
{"d":41.3,"a":0.005},{"d":41.3,"a":0.006},{"d":41.3,"a":0.0073},{"d":41.3,"a":0.0088},{"d":41.3,"a":0.0107},{"d":41.3,"a":0.013},{"d":41.3,"a":0.0157},{"d":41.3,"a":0.019},{"d":41.3,"a":0.023},
{"d":41.7,"a":0.0046},{"d":41.7,"a":0.0055},{"d":41.7,"a":0.0066},{"d":41.7,"a":0.008},{"d":41.7,"a":0.0097},{"d":41.7,"a":0.0118},{"d":41.7,"a":0.0143},{"d":41.7,"a":0.0173},{"d":41.7,"a":0.021},{"d":41.7,"a":0.025},{"d":41.7,"a":0.031},
{"d":42.1,"a":0.005},{"d":42.1,"a":0.006},{"d":42.1,"a":0.0073},{"d":42.1,"a":0.0088},{"d":42.1,"a":0.0107},{"d":42.1,"a":0.013},{"d":42.1,"a":0.0157},{"d":42.1,"a":0.019},{"d":42.1,"a":0.023},{"d":42.1,"a":0.028},{"d":42.1,"a":0.034},
{"d":42.5,"a":0.0055},{"d":42.5,"a":0.0066},{"d":42.5,"a":0.008},{"d":42.5,"a":0.0097},{"d":42.5,"a":0.0118},{"d":42.5,"a":0.0143},{"d":42.5,"a":0.0173},{"d":42.5,"a":0.021},{"d":42.5,"a":0.025},{"d":42.5,"a":0.031},{"d":42.5,"a":0.037},
{"d":42.9,"a":0.006},{"d":42.9,"a":0.0073},{"d":42.9,"a":0.0088},{"d":42.9,"a":0.0107},{"d":42.9,"a":0.013},{"d":42.9,"a":0.0157},{"d":42.9,"a":0.019},{"d":42.9,"a":0.023},{"d":42.9,"a":0.028},{"d":42.9,"a":0.034},{"d":42.9,"a":0.041},
{"d":43.3,"a":0.0066},{"d":43.3,"a":0.008},{"d":43.3,"a":0.0097},{"d":43.3,"a":0.0118},{"d":43.3,"a":0.0143},{"d":43.3,"a":0.0173},{"d":43.3,"a":0.021},{"d":43.3,"a":0.025},{"d":43.3,"a":0.031},{"d":43.3,"a":0.037},{"d":43.3,"a":0.045},
{"d":43.7,"a":0.006},{"d":43.7,"a":0.0073},{"d":43.7,"a":0.0088},{"d":43.7,"a":0.0107},{"d":43.7,"a":0.013},{"d":43.7,"a":0.0157},{"d":43.7,"a":0.019},{"d":43.7,"a":0.023},{"d":43.7,"a":0.028},{"d":43.7,"a":0.034},{"d":43.7,"a":0.041},{"d":43.7,"a":0.05},
{"d":44.1,"a":0.0066},{"d":44.1,"a":0.008},{"d":44.1,"a":0.0097},{"d":44.1,"a":0.0118},{"d":44.1,"a":0.0143},{"d":44.1,"a":0.0173},{"d":44.1,"a":0.021},{"d":44.1,"a":0.025},{"d":44.1,"a":0.031},{"d":44.1,"a":0.037},{"d":44.1,"a":0.045},{"d":44.1,"a":0.055},
{"d":44.4,"a":0.0073},{"d":44.4,"a":0.0088},{"d":44.4,"a":0.0107},{"d":44.4,"a":0.013},{"d":44.4,"a":0.0157},{"d":44.4,"a":0.019},{"d":44.4,"a":0.023},{"d":44.4,"a":0.028},{"d":44.4,"a":0.034},{"d":44.4,"a":0.041},{"d":44.4,"a":0.05},{"d":44.4,"a":0.06},
{"d":44.7,"a":0.008},{"d":44.7,"a":0.0097},{"d":44.7,"a":0.0118},{"d":44.7,"a":0.0143},{"d":44.7,"a":0.0173},{"d":44.7,"a":0.021},{"d":44.7,"a":0.025},{"d":44.7,"a":0.031},{"d":44.7,"a":0.037},
{"d":45.1,"a":0.0139},{"d":45.4,"a":0.0049},
{"d":45.6,"a":0.0055},{"d":45.6,"a":0.0062},{"d":45.8,"a":0.006},{"d":45.8,"a":0.0068},
{"d":46.1,"a":0.0194},
{"d":46.8,"a":0.0098},{"d":46.8,"a":0.0085},{"d":46.8,"a":0.0075},{"d":46.8,"a":0.0066},
{"d":47.0,"a":0.0133},{"d":47.0,"a":0.011},{"d":47.0,"a":0.0092},{"d":47.0,"a":0.0078},{"d":47.0,"a":0.0063},{"d":47.0,"a":0.0055},
{"d":47.3,"a":0.0095},{"d":47.3,"a":0.008},{"d":47.3,"a":0.0069},{"d":47.3,"a":0.006},{"d":47.3,"a":0.0052},{"d":47.3,"a":0.0047},
{"d":47.6,"a":0.0088},{"d":47.6,"a":0.0072},{"d":47.6,"a":0.0061},{"d":47.6,"a":0.0053},
{"d":48.0,"a":0.0237},{"d":48.0,"a":0.017},
{"d":48.2,"a":0.0165},{"d":48.2,"a":0.015},{"d":48.2,"a":0.0135},{"d":48.2,"a":0.012},
{"d":48.6,"a":0.0175},{"d":48.6,"a":0.016},{"d":48.6,"a":0.014},{"d":48.6,"a":0.0125},{"d":48.6,"a":0.011},{"d":48.6,"a":0.0102},
{"d":57.2,"a":0.021},{"d":57.2,"a":0.019},{"d":57.2,"a":0.017},{"d":57.2,"a":0.015},{"d":57.2,"a":0.0135},{"d":57.2,"a":0.012},{"d":57.2,"a":0.0105},{"d":57.2,"a":0.0092},{"d":57.2,"a":0.0082},{"d":57.2,"a":0.0072},{"d":57.2,"a":0.0065},{"d":57.2,"a":0.0058},
{"d":57.5,"a":0.02},{"d":57.5,"a":0.018},{"d":57.5,"a":0.0155},{"d":57.5,"a":0.0132},{"d":57.5,"a":0.0115},{"d":57.5,"a":0.01},{"d":57.5,"a":0.0088},{"d":57.5,"a":0.0076},{"d":57.5,"a":0.0066},{"d":57.5,"a":0.0058},{"d":57.5,"a":0.0052},
{"d":57.8,"a":0.0195},{"d":57.8,"a":0.0165},{"d":57.8,"a":0.014},{"d":57.8,"a":0.012},{"d":57.8,"a":0.0098},{"d":57.8,"a":0.0082},{"d":57.8,"a":0.007},{"d":57.8,"a":0.006},{"d":57.8,"a":0.0055},
{"d":58.1,"a":0.018},{"d":58.1,"a":0.013},{"d":58.1,"a":0.0105},{"d":58.1,"a":0.0088},{"d":58.1,"a":0.0075},{"d":58.1,"a":0.0064},{"d":58.1,"a":0.0057},{"d":58.1,"a":0.0052},
{"d":58.5,"a":0.0125},{"d":58.5,"a":0.0105},{"d":58.5,"a":0.009},{"d":58.5,"a":0.0078},{"d":58.5,"a":0.0067},{"d":58.5,"a":0.0058},{"d":58.5,"a":0.005},
{"d":58.8,"a":0.012},{"d":58.8,"a":0.0098},{"d":58.8,"a":0.0084},{"d":58.8,"a":0.0072},{"d":58.8,"a":0.0062},{"d":58.8,"a":0.0052},{"d":58.8,"a":0.0048},
{"d":59.2,"a":0.02},{"d":59.2,"a":0.011},{"d":59.2,"a":0.0092},{"d":59.2,"a":0.0078},{"d":59.2,"a":0.0066},{"d":59.2,"a":0.0056},{"d":59.2,"a":0.0049},
{"d":59.4,"a":0.028},
{"d":59.6,"a":0.0105},{"d":59.6,"a":0.0088},{"d":59.6,"a":0.0075},{"d":59.6,"a":0.0063},{"d":59.6,"a":0.0054},{"d":59.6,"a":0.0048},
{"d":60.0,"a":0.0098},{"d":60.0,"a":0.0082},{"d":60.0,"a":0.007},{"d":60.0,"a":0.006},{"d":60.0,"a":0.0052},{"d":60.0,"a":0.0047},
{"d":60.4,"a":0.0092},{"d":60.4,"a":0.0078},{"d":60.4,"a":0.0066},{"d":60.4,"a":0.0056},{"d":60.4,"a":0.0048},
{"d":10.03,"a":0.0058},{"d":10.03,"a":0.0077},{"d":10.03,"a":0.0102},{"d":10.03,"a":0.0136},{"d":10.03,"a":0.0182},{"d":10.03,"a":0.024},
{"d":10.38,"a":0.0063},{"d":10.38,"a":0.0084},{"d":10.38,"a":0.0112},{"d":10.38,"a":0.015},{"d":10.38,"a":0.02},{"d":10.38,"a":0.0263},{"d":10.38,"a":0.0357},
{"d":10.73,"a":0.0052},{"d":10.73,"a":0.0069},{"d":10.73,"a":0.0092},{"d":10.73,"a":0.0124},{"d":10.73,"a":0.0165},{"d":10.73,"a":0.022},{"d":10.73,"a":0.029},{"d":10.73,"a":0.039},
{"d":11.08,"a":0.0058},{"d":11.08,"a":0.0077},{"d":11.08,"a":0.0102},{"d":11.08,"a":0.0136},{"d":11.08,"a":0.0182},{"d":11.08,"a":0.024},{"d":11.08,"a":0.0326},{"d":11.08,"a":0.043},
{"d":11.43,"a":0.0063},{"d":11.43,"a":0.0084},{"d":11.43,"a":0.0112},{"d":11.43,"a":0.015},{"d":11.43,"a":0.02},{"d":11.43,"a":0.0263},{"d":11.43,"a":0.0357},{"d":11.43,"a":0.047},
{"d":11.78,"a":0.0052},{"d":11.78,"a":0.0069},{"d":11.78,"a":0.0092},{"d":11.78,"a":0.0124},{"d":11.78,"a":0.0165},{"d":11.78,"a":0.022},{"d":11.78,"a":0.029},{"d":11.78,"a":0.039},{"d":11.78,"a":0.0525},
{"d":12.13,"a":0.0058},{"d":12.13,"a":0.0077},{"d":12.13,"a":0.0102},{"d":12.13,"a":0.0136},{"d":12.13,"a":0.0182},{"d":12.13,"a":0.024},{"d":12.13,"a":0.0326},{"d":12.13,"a":0.043},{"d":12.13,"a":0.058},
{"d":12.48,"a":0.0063},{"d":12.48,"a":0.0084},{"d":12.48,"a":0.0112},{"d":12.48,"a":0.015},{"d":12.48,"a":0.02},{"d":12.48,"a":0.0263},{"d":12.48,"a":0.0357},{"d":12.48,"a":0.047},{"d":12.48,"a":0.063},{"d":12.48,"a":0.077},
{"d":12.83,"a":0.0052},{"d":12.83,"a":0.0069},{"d":12.83,"a":0.0092},{"d":12.83,"a":0.0124},{"d":12.83,"a":0.0165},{"d":12.83,"a":0.022},{"d":12.83,"a":0.029},{"d":12.83,"a":0.039},{"d":12.83,"a":0.0525},{"d":12.83,"a":0.069},
{"d":13.18,"a":0.0058},{"d":13.18,"a":0.0077},{"d":13.18,"a":0.0102},{"d":13.18,"a":0.0136},{"d":13.18,"a":0.0182},{"d":13.18,"a":0.024},{"d":13.18,"a":0.0326},{"d":13.18,"a":0.043},{"d":13.18,"a":0.058},{"d":13.18,"a":0.077},
{"d":13.53,"a":0.0063},{"d":13.53,"a":0.0084},{"d":13.53,"a":0.0112},{"d":13.53,"a":0.015},{"d":13.53,"a":0.02},{"d":13.53,"a":0.0263},{"d":13.53,"a":0.0357},{"d":13.53,"a":0.047},{"d":13.53,"a":0.063},{"d":13.53,"a":0.084},
{"d":13.88,"a":0.0052},{"d":13.88,"a":0.0069},{"d":13.88,"a":0.0092},{"d":13.88,"a":0.0124},{"d":13.88,"a":0.0165},{"d":13.88,"a":0.022},{"d":13.88,"a":0.029},{"d":13.88,"a":0.039},{"d":13.88,"a":0.0525},{"d":13.88,"a":0.069},{"d":13.88,"a":0.092},
{"d":14.23,"a":0.0058},{"d":14.23,"a":0.0077},{"d":14.23,"a":0.0102},{"d":14.23,"a":0.0136},{"d":14.23,"a":0.0182},{"d":14.23,"a":0.024},{"d":14.23,"a":0.0326},{"d":14.23,"a":0.043},{"d":14.23,"a":0.058},{"d":14.23,"a":0.077},
{"d":14.58,"a":0.0063},{"d":14.58,"a":0.0084},{"d":14.58,"a":0.0112},{"d":14.58,"a":0.015},{"d":14.58,"a":0.02},{"d":14.58,"a":0.0263},{"d":14.58,"a":0.0357},{"d":14.58,"a":0.047},{"d":14.58,"a":0.063},{"d":14.58,"a":0.084},
{"d":14.93,"a":0.0052},{"d":14.93,"a":0.0069},{"d":14.93,"a":0.0092},{"d":14.93,"a":0.0124},{"d":14.93,"a":0.0165},{"d":14.93,"a":0.022},{"d":14.93,"a":0.029},{"d":14.93,"a":0.039},{"d":14.93,"a":0.0525},{"d":14.93,"a":0.069},
{"d":15.28,"a":0.0058},{"d":15.28,"a":0.0077},{"d":15.28,"a":0.0102},{"d":15.28,"a":0.0136},{"d":15.28,"a":0.0182},{"d":15.28,"a":0.024},{"d":15.28,"a":0.0326},{"d":15.28,"a":0.043},{"d":15.28,"a":0.058},{"d":15.28,"a":0.077},
{"d":15.63,"a":0.0063},{"d":15.63,"a":0.0084},{"d":15.63,"a":0.0112},{"d":15.63,"a":0.015},{"d":15.63,"a":0.02},{"d":15.63,"a":0.0263},{"d":15.63,"a":0.0357},{"d":15.63,"a":0.047},{"d":15.63,"a":0.063},{"d":15.63,"a":0.084},
{"d":15.98,"a":0.0052},{"d":15.98,"a":0.0069},{"d":15.98,"a":0.0092},{"d":15.98,"a":0.0124},{"d":15.98,"a":0.0165},{"d":15.98,"a":0.022},{"d":15.98,"a":0.029},{"d":15.98,"a":0.039},{"d":15.98,"a":0.0525},
{"d":16.33,"a":0.0058},{"d":16.33,"a":0.0077},{"d":16.33,"a":0.0102},{"d":16.33,"a":0.0136},{"d":16.33,"a":0.0182},{"d":16.33,"a":0.024},{"d":16.33,"a":0.0326},{"d":16.33,"a":0.043},{"d":16.33,"a":0.058},{"d":16.33,"a":0.077},
{"d":16.68,"a":0.0063},{"d":16.68,"a":0.0084},{"d":16.68,"a":0.0112},{"d":16.68,"a":0.015},{"d":16.68,"a":0.02},{"d":16.68,"a":0.0263},{"d":16.68,"a":0.0357},{"d":16.68,"a":0.047},{"d":16.68,"a":0.063},
{"d":17.03,"a":0.0052},{"d":17.03,"a":0.0069},{"d":17.03,"a":0.0092},{"d":17.03,"a":0.0124},{"d":17.03,"a":0.0165},{"d":17.03,"a":0.022},{"d":17.03,"a":0.029},{"d":17.03,"a":0.039},{"d":17.03,"a":0.0525},{"d":17.03,"a":0.069},
{"d":17.38,"a":0.0058},{"d":17.38,"a":0.0077},{"d":17.38,"a":0.0102},{"d":17.38,"a":0.0136},{"d":17.38,"a":0.0182},{"d":17.38,"a":0.024},{"d":17.38,"a":0.0326},{"d":17.38,"a":0.043},{"d":17.38,"a":0.058},
{"d":17.73,"a":0.0063},{"d":17.73,"a":0.0084},{"d":17.73,"a":0.0112},{"d":17.73,"a":0.015},{"d":17.73,"a":0.02},{"d":17.73,"a":0.0263},{"d":17.73,"a":0.0357},{"d":17.73,"a":0.047},
{"d":18.08,"a":0.0052},{"d":18.08,"a":0.0069},{"d":18.08,"a":0.0092},{"d":18.08,"a":0.0124},{"d":18.08,"a":0.0165},{"d":18.08,"a":0.022},{"d":18.08,"a":0.029},{"d":18.08,"a":0.039},
{"d":18.43,"a":0.0058},{"d":18.43,"a":0.0077},{"d":18.43,"a":0.0102},{"d":18.43,"a":0.0136},{"d":18.43,"a":0.0182},{"d":18.43,"a":0.024},{"d":18.43,"a":0.0326},{"d":18.43,"a":0.043},
{"d":18.78,"a":0.0063},{"d":18.78,"a":0.0084},{"d":18.78,"a":0.0112},{"d":18.78,"a":0.015},{"d":18.78,"a":0.02},{"d":18.78,"a":0.0263},{"d":18.78,"a":0.0357},
{"d":19.13,"a":0.0052},{"d":19.13,"a":0.0069},{"d":19.13,"a":0.0092},{"d":19.13,"a":0.0124},{"d":19.13,"a":0.0165},{"d":19.13,"a":0.022},{"d":19.13,"a":0.029},
{"d":19.48,"a":0.0058},{"d":19.48,"a":0.0077},{"d":19.48,"a":0.0102},{"d":19.48,"a":0.0136},{"d":19.48,"a":0.0182},{"d":19.48,"a":0.024},{"d":19.48,"a":0.0326},
{"d":19.84,"a":0.0063},{"d":19.84,"a":0.0084},{"d":19.84,"a":0.0112},{"d":19.84,"a":0.015},{"d":19.84,"a":0.02},{"d":19.84,"a":0.0263},
{"d":20.6,"a":0.0069},{"d":20.6,"a":0.0092},{"d":20.6,"a":0.0124},{"d":20.6,"a":0.0165},{"d":20.6,"a":0.022},{"d":20.6,"a":0.029},
{"d":21.0,"a":0.0063},{"d":21.0,"a":0.0084},{"d":21.0,"a":0.0112},{"d":21.0,"a":0.015},{"d":21.0,"a":0.02},{"d":21.0,"a":0.0263},
{"d":21.4,"a":0.0077},{"d":21.4,"a":0.0102},{"d":21.4,"a":0.0136},{"d":21.4,"a":0.0182},{"d":21.4,"a":0.024},
{"d":21.8,"a":0.0058},{"d":21.8,"a":0.0077},{"d":21.8,"a":0.0102},{"d":21.8,"a":0.0136},{"d":21.8,"a":0.0182},{"d":21.8,"a":0.024},
{"d":22.2,"a":0.0063},{"d":22.2,"a":0.0084},{"d":22.2,"a":0.0112},{"d":22.2,"a":0.015},{"d":22.2,"a":0.02},{"d":22.2,"a":0.0263},
{"d":22.6,"a":0.0048},{"d":22.6,"a":0.0063},{"d":22.6,"a":0.0084},{"d":22.6,"a":0.0112},{"d":22.6,"a":0.015},{"d":22.6,"a":0.02},
{"d":23.0,"a":0.004},{"d":23.0,"a":0.0052},{"d":23.0,"a":0.0069},{"d":23.0,"a":0.0092},{"d":23.0,"a":0.0124},{"d":23.0,"a":0.0165},{"d":23.0,"a":0.022},
{"d":23.4,"a":0.0044},{"d":23.4,"a":0.0058},{"d":23.4,"a":0.0077},{"d":23.4,"a":0.0102},{"d":23.4,"a":0.0136},{"d":23.4,"a":0.0182},{"d":23.4,"a":0.024},
{"d":23.8,"a":0.0048},{"d":23.8,"a":0.0063},{"d":23.8,"a":0.0084},{"d":23.8,"a":0.0112},{"d":23.8,"a":0.015},{"d":23.8,"a":0.02},
{"d":24.2,"a":0.004},{"d":24.2,"a":0.0052},{"d":24.2,"a":0.0069},{"d":24.2,"a":0.0092},{"d":24.2,"a":0.0124},{"d":24.2,"a":0.0165},{"d":24.2,"a":0.022},
{"d":24.6,"a":0.0044},{"d":24.6,"a":0.0058},{"d":24.6,"a":0.0077},{"d":24.6,"a":0.0102},{"d":24.6,"a":0.0136},{"d":24.6,"a":0.0182},{"d":24.6,"a":0.024},
{"d":25.0,"a":0.0048},{"d":25.0,"a":0.0063},{"d":25.0,"a":0.0084},{"d":25.0,"a":0.0112},{"d":25.0,"a":0.015},{"d":25.0,"a":0.02},{"d":25.0,"a":0.0263},
{"d":25.4,"a":0.004},{"d":25.4,"a":0.0052},{"d":25.4,"a":0.0069},{"d":25.4,"a":0.0092},{"d":25.4,"a":0.0124},{"d":25.4,"a":0.0165},{"d":25.4,"a":0.022},
{"d":25.8,"a":0.0044},{"d":25.8,"a":0.0058},{"d":25.8,"a":0.0077},{"d":25.8,"a":0.0102},{"d":25.8,"a":0.0136},{"d":25.8,"a":0.0182},{"d":25.8,"a":0.024},
{"d":26.2,"a":0.0048},{"d":26.2,"a":0.0063},{"d":26.2,"a":0.0084},{"d":26.2,"a":0.0112},{"d":26.2,"a":0.015},{"d":26.2,"a":0.02},
{"d":26.6,"a":0.0052},{"d":26.6,"a":0.0069},{"d":26.6,"a":0.0092},{"d":26.6,"a":0.0124},{"d":26.6,"a":0.0165},{"d":26.6,"a":0.022},
{"d":26.95,"a":0.0058},{"d":26.95,"a":0.0077},{"d":26.95,"a":0.0102},{"d":26.95,"a":0.0136},{"d":26.95,"a":0.0182},
{"d":27.45,"a":0.0058},{"d":27.45,"a":0.0077},{"d":27.45,"a":0.0102},{"d":27.45,"a":0.0136},{"d":27.45,"a":0.0182},{"d":27.45,"a":0.024},{"d":27.45,"a":0.0326},{"d":27.45,"a":0.043},{"d":27.45,"a":0.058},{"d":27.45,"a":0.077},
{"d":27.65,"a":0.0063},{"d":27.65,"a":0.0084},{"d":27.65,"a":0.0112},{"d":27.65,"a":0.015},{"d":27.65,"a":0.02},{"d":27.65,"a":0.0263},{"d":27.65,"a":0.0357},{"d":27.65,"a":0.047},{"d":27.65,"a":0.063},{"d":27.65,"a":0.084},
{"d":27.85,"a":0.0052},{"d":27.85,"a":0.0069},{"d":27.85,"a":0.0092},{"d":27.85,"a":0.0124},{"d":27.85,"a":0.0165},{"d":27.85,"a":0.022},{"d":27.85,"a":0.029},{"d":27.85,"a":0.039},{"d":27.85,"a":0.0525},
{"d":28.15,"a":0.0058},{"d":28.15,"a":0.0077},{"d":28.15,"a":0.0102},{"d":28.15,"a":0.0136},{"d":28.15,"a":0.0182},{"d":28.15,"a":0.024},{"d":28.15,"a":0.0326},{"d":28.15,"a":0.043},
{"d":28.45,"a":0.0063},{"d":28.45,"a":0.0084},{"d":28.45,"a":0.0112},{"d":28.45,"a":0.015},{"d":28.45,"a":0.02},{"d":28.45,"a":0.0263},{"d":28.45,"a":0.0357},
{"d":28.75,"a":0.0048},{"d":28.75,"a":0.0063},{"d":28.75,"a":0.0084},{"d":28.75,"a":0.0112},{"d":28.75,"a":0.015},{"d":28.75,"a":0.02},{"d":28.75,"a":0.0263},
{"d":29.05,"a":0.0052},{"d":29.05,"a":0.0069},{"d":29.05,"a":0.0092},{"d":29.05,"a":0.0124},{"d":29.05,"a":0.0165},{"d":29.05,"a":0.022},{"d":29.05,"a":0.029},
{"d":29.35,"a":0.0063},{"d":29.35,"a":0.0084},{"d":29.35,"a":0.0112},{"d":29.35,"a":0.015},{"d":29.35,"a":0.02},{"d":29.35,"a":0.0263},
{"d":29.65,"a":0.0069},{"d":29.65,"a":0.0092},{"d":29.65,"a":0.0124},{"d":29.65,"a":0.0165},{"d":29.65,"a":0.022},{"d":29.65,"a":0.029},
{"d":30.3,"a":0.0063},{"d":30.3,"a":0.0084},{"d":30.3,"a":0.0112},{"d":30.3,"a":0.015},{"d":30.3,"a":0.02},{"d":30.3,"a":0.0263},
{"d":30.7,"a":0.0069},{"d":30.7,"a":0.0092},{"d":30.7,"a":0.0124},{"d":30.7,"a":0.0165},{"d":30.7,"a":0.022},{"d":30.7,"a":0.029},
{"d":31.1,"a":0.0077},{"d":31.1,"a":0.0102},{"d":31.1,"a":0.0136},{"d":31.1,"a":0.0182},{"d":31.1,"a":0.024},
{"d":31.5,"a":0.0063},{"d":31.5,"a":0.0084},{"d":31.5,"a":0.0112},{"d":31.5,"a":0.015},{"d":31.5,"a":0.02},{"d":31.5,"a":0.0263},
{"d":31.9,"a":0.0069},{"d":31.9,"a":0.0092},{"d":31.9,"a":0.0124},{"d":31.9,"a":0.0165},{"d":31.9,"a":0.022},{"d":31.9,"a":0.029},
{"d":32.3,"a":0.0077},{"d":32.3,"a":0.0102},{"d":32.3,"a":0.0136},{"d":32.3,"a":0.0182},{"d":32.3,"a":0.024},{"d":32.3,"a":0.0326},
{"d":32.7,"a":0.0063},{"d":32.7,"a":0.0084},{"d":32.7,"a":0.0112},{"d":32.7,"a":0.015},{"d":32.7,"a":0.02},{"d":32.7,"a":0.0263},
{"d":33.1,"a":0.0069},{"d":33.1,"a":0.0092},{"d":33.1,"a":0.0124},{"d":33.1,"a":0.0165},{"d":33.1,"a":0.022},{"d":33.1,"a":0.029},
{"d":33.5,"a":0.0058},{"d":33.5,"a":0.0077},{"d":33.5,"a":0.0102},{"d":33.5,"a":0.0136},{"d":33.5,"a":0.0182},{"d":33.5,"a":0.024},{"d":33.5,"a":0.0326},
{"d":33.9,"a":0.0063},{"d":33.9,"a":0.0084},{"d":33.9,"a":0.0112},{"d":33.9,"a":0.015},{"d":33.9,"a":0.02},{"d":33.9,"a":0.0263},
{"d":34.3,"a":0.0069},{"d":34.3,"a":0.0092},{"d":34.3,"a":0.0124},{"d":34.3,"a":0.0165},{"d":34.3,"a":0.022},{"d":34.3,"a":0.029},
{"d":35.1,"a":0.0058},{"d":35.1,"a":0.0077},{"d":35.1,"a":0.0102},{"d":35.1,"a":0.0136},{"d":35.1,"a":0.0182},{"d":35.1,"a":0.024},{"d":35.1,"a":0.0326},
{"d":35.5,"a":0.0063},{"d":35.5,"a":0.0084},{"d":35.5,"a":0.0112},{"d":35.5,"a":0.015},{"d":35.5,"a":0.02},{"d":35.5,"a":0.0263},
{"d":35.9,"a":0.0052},{"d":35.9,"a":0.0069},{"d":35.9,"a":0.0092},{"d":35.9,"a":0.0124},{"d":35.9,"a":0.0165},{"d":35.9,"a":0.022},
{"d":36.3,"a":0.0044},{"d":36.3,"a":0.0058},{"d":36.3,"a":0.0077},{"d":36.3,"a":0.0102},{"d":36.3,"a":0.0136},{"d":36.3,"a":0.0182},{"d":36.3,"a":0.024},
{"d":36.7,"a":0.0048},{"d":36.7,"a":0.0063},{"d":36.7,"a":0.0084},{"d":36.7,"a":0.0112},{"d":36.7,"a":0.015},{"d":36.7,"a":0.02},{"d":36.7,"a":0.0263},
{"d":37.1,"a":0.004},{"d":37.1,"a":0.0052},{"d":37.1,"a":0.0069},{"d":37.1,"a":0.0092},{"d":37.1,"a":0.0124},{"d":37.1,"a":0.0165},
{"d":37.5,"a":0.0044},{"d":37.5,"a":0.0058},{"d":37.5,"a":0.0077},{"d":37.5,"a":0.0102},{"d":37.5,"a":0.0136},{"d":37.5,"a":0.0182},
{"d":37.9,"a":0.004},{"d":37.9,"a":0.0052},{"d":37.9,"a":0.0069},{"d":37.9,"a":0.0092},{"d":37.9,"a":0.0124},{"d":37.9,"a":0.0165},
{"d":38.3,"a":0.0044},{"d":38.3,"a":0.0058},{"d":38.3,"a":0.0077},{"d":38.3,"a":0.0102},{"d":38.3,"a":0.0136},{"d":38.3,"a":0.0182},
{"d":38.7,"a":0.0048},{"d":38.7,"a":0.0063},{"d":38.7,"a":0.0084},{"d":38.7,"a":0.0112},{"d":38.7,"a":0.015},{"d":38.7,"a":0.02},
{"d":39.1,"a":0.004},{"d":39.1,"a":0.0052},{"d":39.1,"a":0.0069},{"d":39.1,"a":0.0092},{"d":39.1,"a":0.0124},{"d":39.1,"a":0.0165},{"d":39.1,"a":0.022},
{"d":39.5,"a":0.0044},{"d":39.5,"a":0.0058},{"d":39.5,"a":0.0077},{"d":39.5,"a":0.0102},{"d":39.5,"a":0.0136},{"d":39.5,"a":0.0182},{"d":39.5,"a":0.024},
{"d":39.9,"a":0.0048},{"d":39.9,"a":0.0063},{"d":39.9,"a":0.0084},{"d":39.9,"a":0.0112},{"d":39.9,"a":0.015},{"d":39.9,"a":0.02},{"d":39.9,"a":0.0263},
{"d":40.3,"a":0.0052},{"d":40.3,"a":0.0069},{"d":40.3,"a":0.0092},{"d":40.3,"a":0.0124},{"d":40.3,"a":0.0165},{"d":40.3,"a":0.022},
{"d":40.7,"a":0.0044},{"d":40.7,"a":0.0058},{"d":40.7,"a":0.0077},{"d":40.7,"a":0.0102},{"d":40.7,"a":0.0136},{"d":40.7,"a":0.0182},{"d":40.7,"a":0.024},
{"d":41.1,"a":0.0048},{"d":41.1,"a":0.0063},{"d":41.1,"a":0.0084},{"d":41.1,"a":0.0112},{"d":41.1,"a":0.015},{"d":41.1,"a":0.02},{"d":41.1,"a":0.0263},
{"d":41.5,"a":0.0052},{"d":41.5,"a":0.0069},{"d":41.5,"a":0.0092},{"d":41.5,"a":0.0124},{"d":41.5,"a":0.0165},{"d":41.5,"a":0.022},
{"d":41.9,"a":0.0058},{"d":41.9,"a":0.0077},{"d":41.9,"a":0.0102},{"d":41.9,"a":0.0136},{"d":41.9,"a":0.0182},{"d":41.9,"a":0.024},{"d":41.9,"a":0.0326},
{"d":42.3,"a":0.0052},{"d":42.3,"a":0.0069},{"d":42.3,"a":0.0092},{"d":42.3,"a":0.0124},{"d":42.3,"a":0.0165},{"d":42.3,"a":0.022},{"d":42.3,"a":0.029},
{"d":42.7,"a":0.0063},{"d":42.7,"a":0.0084},{"d":42.7,"a":0.0112},{"d":42.7,"a":0.015},{"d":42.7,"a":0.02},{"d":42.7,"a":0.0263},{"d":42.7,"a":0.0357},
{"d":43.1,"a":0.0069},{"d":43.1,"a":0.0092},{"d":43.1,"a":0.0124},{"d":43.1,"a":0.0165},{"d":43.1,"a":0.022},{"d":43.1,"a":0.029},{"d":43.1,"a":0.039},
{"d":43.5,"a":0.0063},{"d":43.5,"a":0.0084},{"d":43.5,"a":0.0112},{"d":43.5,"a":0.015},{"d":43.5,"a":0.02},{"d":43.5,"a":0.0263},{"d":43.5,"a":0.0357},{"d":43.5,"a":0.047},
{"d":43.9,"a":0.0069},{"d":43.9,"a":0.0092},{"d":43.9,"a":0.0124},{"d":43.9,"a":0.0165},{"d":43.9,"a":0.022},{"d":43.9,"a":0.029},{"d":43.9,"a":0.039},{"d":43.9,"a":0.0525},
{"d":44.25,"a":0.0077},{"d":44.25,"a":0.0102},{"d":44.25,"a":0.0136},{"d":44.25,"a":0.0182},{"d":44.25,"a":0.024},{"d":44.25,"a":0.0326},{"d":44.25,"a":0.043},{"d":44.25,"a":0.058},
{"d":44.55,"a":0.0084},{"d":44.55,"a":0.0112},{"d":44.55,"a":0.015},{"d":44.55,"a":0.02},{"d":44.55,"a":0.0263},{"d":44.55,"a":0.0357}
],
"tide":[
{"d":0,"v":3.16},{"d":0.25,"v":-2.54},{"d":0.51,"v":0.84},{"d":0.74,"v":-2.43},{"d":1.03,"v":3.91},{"d":1.29,"v":-2.54},{"d":1.52,"v":0.63},{"d":1.77,"v":-2.4},{"d":2.05,"v":3.95},{"d":2.32,"v":-2.43},{"d":2.55,"v":0.42},{"d":2.81,"v":-2.31},{"d":3.06,"v":3.87},{"d":3.34,"v":-2.21},{"d":3.57,"v":0.22},{"d":3.82,"v":-2.16},{"d":4.1,"v":3.64},{"d":4.37,"v":-2.02},{"d":4.6,"v":0.06},{"d":4.83,"v":-1.9},{"d":5.13,"v":3.3},{"d":5.4,"v":-1.81},{"d":5.64,"v":0},{"d":5.87,"v":-1.54},{"d":6.14,"v":2.85},{"d":6.46,"v":-1.7},{"d":6.67,"v":0.11},{"d":6.92,"v":-1.12},{"d":7.2,"v":2.36},{"d":7.52,"v":-1.7},{"d":7.75,"v":0.54},{"d":7.98,"v":-0.86},{"d":8.25,"v":1.93},{"d":8.53,"v":-1.83},{"d":8.8,"v":1.28},{"d":9.06,"v":-1.03},{"d":9.31,"v":1.59},{"d":9.56,"v":-2.03},{"d":9.86,"v":2.15},{"d":10.11,"v":-1.52},{"d":10.37,"v":1.37},{"d":10.6,"v":-2.28},{"d":10.87,"v":3.01},{"d":11.15,"v":-2.11},{"d":11.4,"v":1.2},{"d":11.65,"v":-2.52},{"d":11.91,"v":3.77},{"d":12.18,"v":-2.6},{"d":12.43,"v":1.05},{"d":12.69,"v":-2.73},{"d":12.94,"v":4.33},{"d":13.22,"v":-2.93},{"d":13.47,"v":0.91},{"d":13.72,"v":-2.85},{"d":13.98,"v":4.65},{"d":14.25,"v":-3.06},{"d":14.5,"v":0.77},{"d":14.76,"v":-2.88},{"d":15.01,"v":4.72},{"d":15.28,"v":-3},{"d":15.52,"v":0.64},{"d":15.79,"v":-2.77},{"d":16.04,"v":4.56},{"d":16.32,"v":-2.77},{"d":16.55,"v":0.52},{"d":16.82,"v":-2.57},{"d":17.08,"v":4.19},{"d":17.33,"v":-2.48},{"d":17.58,"v":0.42},{"d":17.84,"v":-2.21},{"d":18.09,"v":3.67},{"d":18.37,"v":-2.15},{"d":18.62,"v":0.35},{"d":18.87,"v":-1.78},{"d":19.13,"v":3.06},{"d":19.4,"v":-1.87},{"d":19.65,"v":0.33},{"d":19.91,"v":-1.3},{"d":20.16,"v":2.42},{"d":20.43,"v":-1.66},{"d":20.69,"v":0.42},{"d":20.94,"v":-0.81},{"d":21.2,"v":1.81},{"d":21.47,"v":-1.54},{"d":21.76,"v":0.67},{"d":22.0,"v":-0.47},{"d":22.25,"v":1.25},{"d":22.5,"v":-1.53},{"d":22.82,"v":1.1},{"d":23.05,"v":-0.44},{"d":23.31,"v":0.85},{"d":23.56,"v":-1.59},{"d":23.85,"v":1.6},{"d":24.11,"v":-0.76},{"d":24.34,"v":0.62},{"d":24.59,"v":-1.7},{"d":24.87,"v":2.16},{"d":25.12,"v":-1.18},{"d":25.37,"v":0.52},{"d":25.63,"v":-1.82},{"d":25.9,"v":2.67},{"d":26.18,"v":-1.62},{"d":26.43,"v":0.51},{"d":26.66,"v":-1.95},{"d":26.94,"v":3.14},{"d":27.19,"v":-2.02},{"d":27.44,"v":0.52},{"d":27.7,"v":-2.11},{"d":27.95,"v":3.55},{"d":28.22,"v":-2.32},{"d":28.46,"v":0.56},{"d":28.71,"v":-2.25},{"d":28.96,"v":3.89},{"d":29.24,"v":-2.54},{"d":29.49,"v":0.56},{"d":29.74,"v":-2.37},
{"d":30.0,"v":4.15},{"d":30.28,"v":-2.63},{"d":30.51,"v":0.52},{"d":30.76,"v":-2.46},{"d":31.02,"v":4.22},{"d":31.29,"v":-2.63},{"d":31.55,"v":0.54},{"d":31.8,"v":-2.48},{"d":32.05,"v":4.18},{"d":32.33,"v":-2.54},{"d":32.56,"v":0.56},{"d":32.83,"v":-2.39},{"d":33.09,"v":3.96},{"d":33.36,"v":-2.39},{"d":33.59,"v":0.64},{"d":33.85,"v":-2.17},{"d":34.1,"v":3.52},{"d":34.38,"v":-2.2},{"d":34.63,"v":0.76},{"d":34.88,"v":-1.8},{"d":35.13,"v":2.95},{"d":35.41,"v":-2.03},{"d":35.66,"v":0.94},{"d":35.92,"v":-1.37},{"d":36.17,"v":2.21},{"d":36.44,"v":-1.89},{"d":36.72,"v":1.26},{"d":36.95,"v":-1},{"d":37.22,"v":1.45},{"d":37.5,"v":-1.8},{"d":37.77,"v":1.76},{"d":38.03,"v":-0.97},{"d":38.26,"v":0.79},{"d":38.53,"v":-1.8},{"d":38.83,"v":2.39},{"d":39.08,"v":-1.34},{"d":39.34,"v":0.39},{"d":39.59,"v":-1.9},{"d":39.86,"v":3.07},{"d":40.14,"v":-1.88},{"d":40.37,"v":0.27},{"d":40.62,"v":-2.11},{"d":40.9,"v":3.69},{"d":41.17,"v":-2.36},{"d":41.43,"v":0.3},{"d":41.68,"v":-2.32},{"d":41.93,"v":4.17},{"d":42.21,"v":-2.69},{"d":42.46,"v":0.42},{"d":42.71,"v":-2.54},{"d":42.97,"v":4.46},{"d":43.24,"v":-2.87},{"d":43.47,"v":0.59},{"d":43.73,"v":-2.69},{"d":43.98,"v":4.52},{"d":44.28,"v":-2.87},{"d":44.51,"v":0.74},{"d":44.76,"v":-2.73},{"d":45.02,"v":4.4},{"d":45.29,"v":-2.74},{"d":45.54,"v":0.88},{"d":45.8,"v":-2.6},{"d":46.05,"v":4.09},{"d":46.32,"v":-2.58},{"d":46.58,"v":1},{"d":46.83,"v":-2.39},{"d":47.08,"v":3.61},{"d":47.36,"v":-2.37},{"d":47.59,"v":1.08},{"d":47.84,"v":-2.05},{"d":48.1,"v":3.05},{"d":48.37,"v":-2.17},{"d":48.62,"v":1.13},{"d":48.86,"v":-1.62},{"d":49.11,"v":2.44},{"d":49.38,"v":-1.97},{"d":49.64,"v":1.14},{"d":49.87,"v":-1.15},{"d":50.14,"v":1.78},{"d":50.4,"v":-1.77},{"d":50.65,"v":1.16},{"d":50.9,"v":-0.69},{"d":51.16,"v":1.13},{"d":51.45,"v":-1.58},{"d":51.73,"v":1.26},{"d":51.98,"v":-0.41},{"d":52.19,"v":0.54},{"d":52.53,"v":-1.33},{"d":52.78,"v":1.51},{"d":53.06,"v":-0.49},{"d":53.27,"v":0.07},{"d":53.54,"v":-1.33},{"d":53.82,"v":1.91},{"d":54.13,"v":-0.94},{"d":54.37,"v":-0.09},{"d":54.56,"v":-1.35},{"d":54.87,"v":2.4},{"d":55.15,"v":-1.45},{"d":55.4,"v":0},{"d":55.61,"v":-1.52},{"d":55.93,"v":2.93},{"d":56.2,"v":-1.92},{"d":56.44,"v":0.19},{"d":56.65,"v":-1.8},{"d":56.94,"v":3.47},{"d":57.24,"v":-2.32},{"d":57.45,"v":0.41},{"d":57.7,"v":-2.07},{"d":57.98,"v":3.91},{"d":58.25,"v":-2.62},{"d":58.48,"v":0.63},{"d":58.71,"v":-2.45},{"d":58.99,"v":4.23},{"d":59.26,"v":-2.81},{"d":59.5,"v":0.88},{"d":59.77,"v":-2.68},{"d":60.0,"v":4.38},{"d":60.28,"v":-2.88},{"d":60.53,"v":1.13},{"d":60.78,"v":-2.79},{"d":61.02,"v":4.3},{"d":61.29,"v":-2.85},{"d":61.54,"v":1.39},{"d":61.78,"v":-2.76},{"d":61.98,"v":-0.5}
],
"tideC":[{"h":0,"v":1.66},{"h":4.7,"v":-1.59},{"h":9.9,"v":0.5},{"h":15.8,"v":-1.94},{"h":22.7,"v":3.12},{"h":29.7,"v":-1.99},{"h":34.7,"v":0.52},{"h":40.3,"v":-2.08},{"h":46.8,"v":3.53},{"h":53.8,"v":-2.31},{"h":59.4,"v":0.52},{"h":64.6,"v":-2.24},{"h":71.4,"v":3.87},{"h":78.5,"v":-2.54},{"h":84.1,"v":0.55},{"h":89.4,"v":-2.35},{"h":96,"v":4.1}],
"hist":[{"h0":0,"h1":1,"n":1},{"h0":1,"h1":2,"n":1},{"h0":2,"h1":3,"n":1},{"h0":19,"h1":20,"n":3},{"h0":20,"h1":21,"n":1},{"h0":22,"h1":23,"n":2},{"h0":23,"h1":24,"n":2},{"h0":24,"h1":25,"n":4},{"h0":25,"h1":26,"n":5},{"h0":26,"h1":27,"n":6},{"h0":30,"h1":31,"n":1},{"h0":31,"h1":32,"n":5},{"h0":32,"h1":33,"n":3},{"h0":33,"h1":34,"n":8},{"h0":34,"h1":35,"n":4},{"h0":35,"h1":36,"n":2},{"h0":36,"h1":37,"n":7},{"h0":37,"h1":38,"n":11},{"h0":38,"h1":39,"n":4},{"h0":39,"h1":40,"n":8},{"h0":40,"h1":41,"n":10},{"h0":41,"h1":42,"n":10},{"h0":43,"h1":44,"n":2},{"h0":44,"h1":45,"n":19},{"h0":45,"h1":46,"n":21},{"h0":46,"h1":47,"n":9},{"h0":47,"h1":48,"n":9},{"h0":48,"h1":49,"n":14},{"h0":49,"h1":50,"n":10},{"h0":50,"h1":51,"n":9},{"h0":51,"h1":52,"n":12},{"h0":52,"h1":53,"n":9},{"h0":53,"h1":54,"n":3},{"h0":54,"h1":55,"n":2},{"h0":55,"h1":56,"n":4},{"h0":56,"h1":57,"n":1},{"h0":58,"h1":59,"n":1},{"h0":59,"h1":60,"n":3},{"h0":60,"h1":61,"n":12},{"h0":61,"h1":62,"n":6},{"h0":62,"h1":63,"n":14},{"h0":63,"h1":64,"n":6},{"h0":64,"h1":65,"n":4},{"h0":65,"h1":66,"n":4},{"h0":66,"h1":67,"n":8},{"h0":67,"h1":68,"n":15},{"h0":68,"h1":69,"n":13},{"h0":69,"h1":70,"n":5},{"h0":70,"h1":71,"n":8},{"h0":71,"h1":72,"n":4},{"h0":72,"h1":73,"n":2},{"h0":73,"h1":74,"n":3},{"h0":74,"h1":75,"n":7},{"h0":75,"h1":76,"n":6},{"h0":76,"h1":77,"n":2},{"h0":77,"h1":78,"n":2},{"h0":78,"h1":79,"n":1},{"h0":79,"h1":80,"n":8},{"h0":80,"h1":81,"n":2},{"h0":94,"h1":95,"n":1},{"h0":95,"h1":96,"n":2}]
},
"bounds":"flush",
"spacing":0,
"vconcat":[
{"width":1161,"height":522,
 "resolve":{"scale":{"x":"independent","y":"independent"},"axis":{"x":"independent","y":"independent"}},
 "layer":[
  {"data":{"name":"scatter"},
   "mark":{"type":"circle","size":185,"fill":"white","stroke":"black","strokeWidth":2.2,"opacity":1},
   "encoding":{
    "x":{"field":"d","type":"quantitative","scale":{"domain":[0,62],"nice":false,"zero":false},
     "axis":{"orient":"bottom","values":[0,5,10,15,20,25,30,31,36,41,46,51,56,61,62],"labels":false,
      "tickSize":{"condition":[{"test":"datum.value == 0 || datum.value == 31 || datum.value == 62","value":63},{"test":"indexof([5,15,25,36,46,56], datum.value) >= 0","value":12}],"value":21},
      "title":"Date","titlePadding":107}},
    "y":{"field":"a","type":"quantitative","scale":{"type":"log","domain":[0.001,0.5],"nice":false},
     "axis":{"orient":"left","values":[0.001,0.002,0.003,0.004,0.005,0.006,0.007,0.008,0.009,0.01,0.02,0.03,0.04,0.05,0.06,0.07,0.08,0.09,0.1,0.2,0.3,0.4,0.5],
      "tickSize":{"condition":{"test":"indexof([0.001,0.01,0.1], datum.value) >= 0","value":21},"value":11},
      "labelExpr":"indexof([0.001,0.01,0.1], datum.value) >= 0 ? '10' : ''",
      "labelPadding":43,"labelOffset":6,
      "title":["Source radiation","amplitude (m²/s)"],"titleLineHeight":63,"titlePadding":12}}}},
  {"data":{"name":"cum"},"mark":{"type":"line","stroke":"white","strokeWidth":8},
   "encoding":{"x":{"field":"d","type":"quantitative","scale":{"domain":[0,62],"nice":false,"zero":false},"axis":null},
    "y":{"field":"n","type":"quantitative","scale":{"domain":[0,4000],"nice":false},"axis":null}}},
  {"data":{"name":"cum"},"mark":{"type":"line","stroke":"black","strokeWidth":3},
   "encoding":{"x":{"field":"d","type":"quantitative","scale":{"domain":[0,62],"nice":false,"zero":false},
     "axis":{"orient":"bottom","values":[0.4,10.4,15.5,20.4,29.0,31.75,41.4,46.5,51.4,61.2],"ticks":false,"tickSize":0,
      "labelExpr":"datum.value < 1 ? '01' : datum.value < 11 ? '11' : datum.value < 16 ? '2020−12' : datum.value < 21 ? '21' : datum.value < 30 ? '31' : datum.value < 32 ? '01' : datum.value < 42 ? '11' : datum.value < 47 ? '2021−01' : datum.value < 52 ? '21' : '31'",
      "labelFontSize":{"condition":{"test":"datum.value == 15.5 || datum.value == 46.5","value":49},"value":44},
      "labelPadding":{"condition":{"test":"datum.value == 15.5 || datum.value == 46.5","value":118},"value":72},
      "title":null}},
    "y":{"field":"n","type":"quantitative","scale":{"domain":[0,4000],"nice":false},
     "axis":{"orient":"right","values":[0,500,1000,1500,2000,2500,3000,3500,4000],
      "tickSize":{"condition":{"test":"datum.value % 1000 == 0","value":21},"value":11},
      "labelExpr":"datum.value % 1000 == 0 ? '' + datum.value : ''","labelAlign":"left","labelPadding":10,
      "title":"Cumulative number","titleAngle":270,"titleBaseline":"top","titlePadding":17}}}},
  {"data":{"name":"quakesA"},"mark":{"type":"rule","color":"#ff0000","strokeWidth":2,"strokeDash":[18,8]},
   "encoding":{"x":{"field":"d","type":"quantitative","scale":{"domain":[0,62],"nice":false,"zero":false},
     "axis":{"orient":"top","values":[0,5,10,15,20,25,30,31,36,41,46,51,56,61,62],"labels":false,
      "tickSize":{"condition":{"test":"indexof([5,15,25,36,46,56], datum.value) >= 0","value":12},"value":21},"title":null}}}},
  {"data":{"name":"quakesA"},"transform":[{"filter":"datum.q == 'Chile'"}],
   "mark":{"type":"text","color":"#ff0000","fontSize":40,"align":"center","baseline":"alphabetic","lineHeight":41,"dy":-65},
   "encoding":{"text":{"field":"label"},
    "x":{"field":"d","type":"quantitative","scale":{"domain":[0,62],"nice":false,"zero":false},"axis":null},
    "y":{"datum":0.5,"type":"quantitative","scale":{"type":"log","domain":[0.001,0.5],"nice":false},
     "axis":{"orient":"left","values":[0.001,0.01,0.1],"ticks":false,"tickSize":0,
      "labelExpr":"datum.value < 0.005 ? '−3' : datum.value < 0.05 ? '−2' : '−1'",
      "labelFontSize":22,"labelPadding":37,"labelOffset":-3,"title":null}}}},
  {"data":{"name":"quakesA"},"transform":[{"filter":"datum.q == 'Argentina'"}],
   "mark":{"type":"text","color":"#ff0000","fontSize":40,"align":"right","baseline":"alphabetic","lineHeight":41,"dy":-65,"dx":-3},
   "encoding":{"text":{"field":"label"},
    "x":{"field":"d","type":"quantitative","scale":{"domain":[0,62],"nice":false,"zero":false},"axis":null},
    "y":{"datum":0.5,"type":"quantitative","scale":{"type":"log","domain":[0.001,0.5],"nice":false},"axis":null}}},
  {"data":{"name":"quakesA"},"transform":[{"filter":"datum.q == 'Philippines'"}],
   "mark":{"type":"text","color":"#ff0000","fontSize":40,"align":"left","baseline":"alphabetic","lineHeight":41,"dy":-65,"dx":1},
   "encoding":{"text":{"field":"label"},
    "x":{"field":"d","type":"quantitative","scale":{"domain":[0,62],"nice":false,"zero":false},"axis":null},
    "y":{"datum":0.5,"type":"quantitative","scale":{"type":"log","domain":[0.001,0.5],"nice":false},"axis":null}}},
  {"data":{"values":[{"t":"N = 3578"}]},
   "mark":{"type":"text","fontSize":48,"align":"left","baseline":"alphabetic","dx":13,"dy":46,"color":"black"},
   "encoding":{"text":{"field":"t"},
    "x":{"datum":0,"type":"quantitative","scale":{"domain":[0,62],"nice":false,"zero":false},"axis":null},
    "y":{"datum":0.5,"type":"quantitative","scale":{"type":"log","domain":[0.001,0.5],"nice":false},"axis":null}}},
  {"data":{"values":[{"t":"a"}]},
   "mark":{"type":"text","fontSize":66,"fontWeight":"bold","align":"left","baseline":"alphabetic","dx":-172,"dy":-70,"color":"black"},
   "encoding":{"text":{"field":"t"},
    "x":{"datum":0,"type":"quantitative","scale":{"domain":[0,62],"nice":false,"zero":false},"axis":null},
    "y":{"datum":0.5,"type":"quantitative","scale":{"type":"log","domain":[0.001,0.5],"nice":false},"axis":null}}}
 ]},
{"width":1161,"height":266,"view":{"stroke":null},"data":{"values":[{"t":""}]},"mark":{"type":"text","opacity":0},"encoding":{"text":{"field":"t"}}},
{"width":1161,"height":522,
 "resolve":{"scale":{"x":"independent","y":"independent"},"axis":{"x":"independent","y":"independent"}},
 "layer":[
  {"data":{"name":"tide"},"mark":{"type":"line","stroke":"black","strokeWidth":2,"interpolate":"monotone"},
   "encoding":{
    "x":{"field":"d","type":"quantitative","scale":{"domain":[0,62],"nice":false,"zero":false},
     "axis":{"orient":"bottom","values":[0,5,10,15,20,25,30,31,36,41,46,51,56,61,62],"labels":false,
      "tickSize":{"condition":[{"test":"datum.value == 0 || datum.value == 31 || datum.value == 62","value":63},{"test":"indexof([5,15,25,36,46,56], datum.value) >= 0","value":12}],"value":21},
      "title":"Date","titlePadding":115}},
    "y":{"field":"v","type":"quantitative","scale":{"domain":[-4,5],"nice":false,"zero":false},
     "axis":{"orient":"left","values":[-4,-3,-2,-1,0,1,2,3,4,5],"tickSize":21,"labelPadding":11,"title":"ΔCFF (kPa)","titlePadding":8}}}},
  {"data":{"values":[{"t":"b"}]},
   "mark":{"type":"text","fontSize":66,"fontWeight":"bold","align":"left","baseline":"alphabetic","dx":-172,"dy":-46,"color":"black"},
   "encoding":{"text":{"field":"t"},
    "x":{"datum":0,"type":"quantitative","scale":{"domain":[0,62],"nice":false,"zero":false},
     "axis":{"orient":"bottom","values":[0.4,10.4,15.5,20.4,29.0,31.75,41.4,46.5,51.4,61.2],"ticks":false,"tickSize":0,
      "labelExpr":"datum.value < 1 ? '01' : datum.value < 11 ? '11' : datum.value < 16 ? '2020−12' : datum.value < 21 ? '21' : datum.value < 30 ? '31' : datum.value < 32 ? '01' : datum.value < 42 ? '11' : datum.value < 47 ? '2021−01' : datum.value < 52 ? '21' : '31'",
      "labelFontSize":{"condition":{"test":"datum.value == 15.5 || datum.value == 46.5","value":49},"value":44},
      "labelPadding":{"condition":{"test":"datum.value == 15.5 || datum.value == 46.5","value":128},"value":83},
      "title":null}},
    "y":{"datum":5,"type":"quantitative","scale":{"domain":[-4,5],"nice":false,"zero":false},
     "axis":{"orient":"right","values":[-4,-3,-2,-1,0,1,2,3,4,5],"tickSize":21,"labels":false,"title":null}}}},
  {"data":{"values":[{"t":""}]},
   "mark":{"type":"text"},
   "encoding":{"text":{"field":"t"},
    "x":{"datum":0,"type":"quantitative","scale":{"domain":[0,62],"nice":false,"zero":false},
     "axis":{"orient":"top","values":[0,5,10,15,20,25,30,31,36,41,46,51,56,61,62],"labels":false,
      "tickSize":{"condition":{"test":"indexof([5,15,25,36,46,56], datum.value) >= 0","value":12},"value":21},"title":null}}}}
 ]},
{"width":1161,"height":349,"view":{"stroke":null},"data":{"values":[{"t":""}]},"mark":{"type":"text","opacity":0},"encoding":{"text":{"field":"t"}}},
{"width":1161,"height":522,
 "resolve":{"scale":{"x":"independent","y":"independent"},"axis":{"x":"independent","y":"independent"}},
 "layer":[
  {"data":{"name":"hist"},"mark":{"type":"bar","fill":"#bfbfbf","stroke":"black","strokeWidth":1.3,"binSpacing":0},
   "encoding":{
    "x":{"field":"h0","type":"quantitative","bin":"binned","scale":{"domain":[0,96],"nice":false,"zero":false},
     "axis":{"orient":"bottom","values":[0,6,12,18,24,30,36,42,48,54,60,66,72,78,84,90,96],"tickSize":20,"labelPadding":12,
      "labelExpr":"pad(toString(datum.value % 24), 2, '0', 'left')","title":null}},
    "x2":{"field":"h1"},
    "y":{"field":"n","type":"quantitative","scale":{"domain":[0,25],"nice":false},
     "axis":{"orient":"left","values":[0,5,10,15,20,25],"tickSize":21,"labelPadding":11,"title":"# of events","titlePadding":6}}}},
  {"data":{"name":"tideC"},"mark":{"type":"line","stroke":"black","strokeWidth":2.5,"strokeDash":[26,12],"interpolate":"monotone"},
   "encoding":{
    "x":{"field":"h","type":"quantitative","scale":{"domain":[0,96],"nice":false,"zero":false},
     "axis":{"orient":"bottom","values":[12,36,60,84],"ticks":false,"tickSize":0,"labelPadding":83,
      "labelExpr":"datum.value < 24 ? '2020−12−27' : datum.value < 48 ? '2020−12−28' : datum.value < 72 ? '2020−12−29' : '2020−12−30'",
      "title":"Time","titlePadding":0}},
    "y":{"field":"v","type":"quantitative","scale":{"domain":[-4,5],"nice":false,"zero":false},
     "axis":{"orient":"right","values":[-4,-3,-2,-1,0,1,2,3,4,5],"tickSize":21,"labelAlign":"right","labelPadding":62,
      "title":"ΔCFF (kPa)","titleAngle":270,"titleBaseline":"top","titlePadding":16}}}},
  {"data":{"name":"quakeC"},"mark":{"type":"rule","color":"#ff0000","strokeWidth":1.8,"strokeDash":[18,8]},
   "encoding":{"x":{"field":"h","type":"quantitative","scale":{"domain":[0,96],"nice":false,"zero":false},
     "axis":{"orient":"top","values":[0,6,12,18,24,30,36,42,48,54,60,66,72,78,84,90,96],"tickSize":11,"labels":false,"title":null}}}},
  {"data":{"name":"quakeC"},
   "mark":{"type":"text","color":"#ff0000","fontSize":40,"align":"center","baseline":"alphabetic","lineHeight":40,"dy":-64},
   "encoding":{"text":{"field":"label"},
    "x":{"field":"h","type":"quantitative","scale":{"domain":[0,96],"nice":false,"zero":false},"axis":null},
    "y":{"datum":5,"type":"quantitative","scale":{"domain":[-4,5],"nice":false,"zero":false},"axis":null}}},
  {"data":{"values":[{"t":"c"}]},
   "mark":{"type":"text","fontSize":66,"fontWeight":"bold","align":"left","baseline":"alphabetic","dx":-172,"dy":-68,"color":"black"},
   "encoding":{"text":{"field":"t"},
    "x":{"datum":0,"type":"quantitative","scale":{"domain":[0,96],"nice":false,"zero":false},"axis":null},
    "y":{"datum":5,"type":"quantitative","scale":{"domain":[-4,5],"nice":false,"zero":false},"axis":null}}}
 ]}
]
}
